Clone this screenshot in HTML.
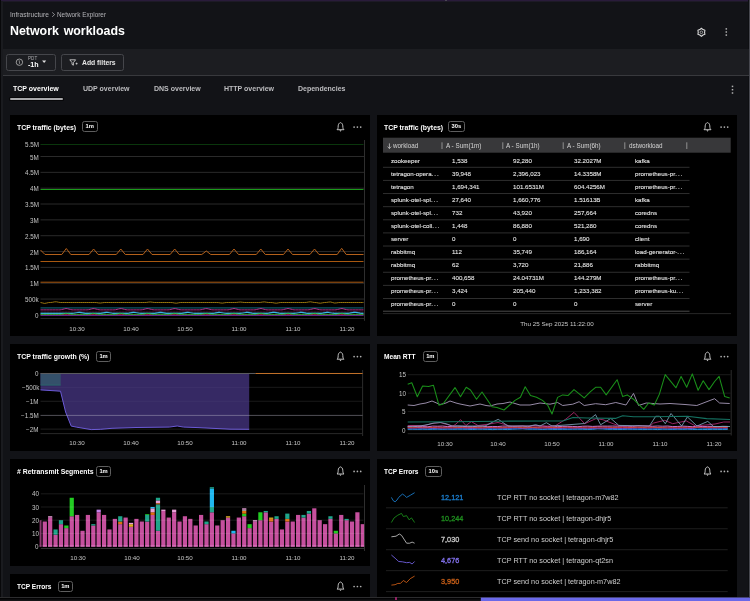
<!DOCTYPE html><html><head><meta charset="utf-8"><style>
*{margin:0;padding:0;box-sizing:border-box}
html,body{width:750px;height:601px;overflow:hidden;background:#121317;font-family:"Liberation Sans", sans-serif}
.t{position:absolute;white-space:nowrap;line-height:12px;height:12px;will-change:transform}
.p{position:absolute;background:#000}
.badge{position:absolute;border:1px solid #5e5e5e;border-radius:2.5px;height:10.8px;color:#fff;font-weight:bold;font-size:5.8px;line-height:9.8px;text-align:center;will-change:transform}
svg{position:absolute;left:0;top:0;overflow:visible}

</style></head><body>
<div style="position:absolute;left:0px;top:0px;width:750px;height:1px;background:#291b3a;"></div>
<div style="position:absolute;left:0px;top:1px;width:750px;height:0.4px;background:#1d1a26;"></div>
<div style="position:absolute;left:444.8px;top:0px;width:2.4px;height:1px;background:#4a4654;"></div>
<div style="position:absolute;left:0px;top:0px;width:1px;height:601px;background:#08080a;"></div>
<div style="position:absolute;left:1px;top:1px;width:2px;height:600px;background:#1a1b1f;"></div>
<div style="position:absolute;left:748px;top:0px;width:1px;height:601px;background:#0e0f12;"></div>
<div style="position:absolute;left:749px;top:0px;width:1px;height:601px;background:#46474e;"></div>
<div style="position:absolute;left:3px;top:49px;width:746px;height:26px;background:#1c1d21;"></div>
<div style="position:absolute;left:3px;top:75.1px;width:746px;height:1px;background:#38393d;"></div>
<div style="position:absolute;left:6px;top:53.6px;width:50.3px;height:17px;border:1px solid #45464b;border-radius:2.5px"></div>
<div style="position:absolute;left:60.6px;top:53.6px;width:63.8px;height:17px;border:1px solid #45464b;border-radius:2.5px"></div>
<div style="position:absolute;left:8.8px;top:96.9px;width:55.3px;height:4.1px;background:#08080a;border-radius:1.5px"></div>
<div style="position:absolute;left:9.6px;top:97.9px;width:53.7px;height:2.1px;background:#a8a8ab;border-radius:1px"></div>
<div class="p" style="left:10.1px;top:114.6px;width:359.5px;height:221.9px"></div>
<div class="p" style="left:377.1px;top:114.6px;width:359.5px;height:221.9px"></div>
<div class="p" style="left:10.1px;top:344.1px;width:359.5px;height:106.8px"></div>
<div class="p" style="left:377.1px;top:344.1px;width:359.5px;height:106.8px"></div>
<div class="p" style="left:10.1px;top:458.9px;width:359.5px;height:106.9px"></div>
<div class="p" style="left:377.1px;top:458.9px;width:359.5px;height:145px"></div>
<div class="p" style="left:10.1px;top:574px;width:359.5px;height:30px"></div>
<div class="badge" style="left:82.4px;top:121.40px;width:15.6px">1m</div>
<div class="badge" style="left:448.3px;top:121.40px;width:16.7px">30s</div>
<div class="badge" style="left:96.4px;top:350.90px;width:15.2px">1m</div>
<div class="badge" style="left:423px;top:350.90px;width:14.7px">1m</div>
<div class="badge" style="left:96.4px;top:465.70px;width:15.2px">1m</div>
<div class="badge" style="left:425px;top:465.70px;width:16.7px">10s</div>
<div class="badge" style="left:58.4px;top:580.80px;width:14.7px">1m</div>
<svg width="750" height="601" viewBox="0 0 750 601"><path d="M337.0,129.7 L344.0,129.7 Q342.9,129.0 342.9,127.5 L342.8,125.89999999999999 C342.7,124.1 341.8,122.89999999999999 340.5,122.6 C339.2,122.89999999999999 338.3,124.1 338.2,125.89999999999999 L338.1,127.5 Q338.1,129.0 337.0,129.7 Z" fill="none" stroke="#c8c8c8" stroke-width="0.95" stroke-linejoin="round"/>
<path d="M339.4,130.29999999999998 L341.6,130.29999999999998 L340.5,131.7 Z" fill="#c8c8c8"/>
<circle cx="354.1" cy="127.1" r="0.85" fill="#b0b0b0"/>
<circle cx="357.40000000000003" cy="127.1" r="0.85" fill="#b0b0b0"/>
<circle cx="360.70000000000005" cy="127.1" r="0.85" fill="#b0b0b0"/>
<path d="M704.0,129.7 L711.0,129.7 Q709.9,129.0 709.9,127.5 L709.8,125.89999999999999 C709.7,124.1 708.8,122.89999999999999 707.5,122.6 C706.2,122.89999999999999 705.3,124.1 705.2,125.89999999999999 L705.1,127.5 Q705.1,129.0 704.0,129.7 Z" fill="none" stroke="#c8c8c8" stroke-width="0.95" stroke-linejoin="round"/>
<path d="M706.4,130.29999999999998 L708.6,130.29999999999998 L707.5,131.7 Z" fill="#c8c8c8"/>
<circle cx="721.1" cy="127.1" r="0.85" fill="#b0b0b0"/>
<circle cx="724.4" cy="127.1" r="0.85" fill="#b0b0b0"/>
<circle cx="727.6999999999999" cy="127.1" r="0.85" fill="#b0b0b0"/>
<path d="M337.0,359.20000000000005 L344.0,359.20000000000005 Q342.9,358.5 342.9,357.0 L342.8,355.40000000000003 C342.7,353.6 341.8,352.40000000000003 340.5,352.1 C339.2,352.40000000000003 338.3,353.6 338.2,355.40000000000003 L338.1,357.0 Q338.1,358.5 337.0,359.20000000000005 Z" fill="none" stroke="#c8c8c8" stroke-width="0.95" stroke-linejoin="round"/>
<path d="M339.4,359.8 L341.6,359.8 L340.5,361.20000000000005 Z" fill="#c8c8c8"/>
<circle cx="354.1" cy="356.6" r="0.85" fill="#b0b0b0"/>
<circle cx="357.40000000000003" cy="356.6" r="0.85" fill="#b0b0b0"/>
<circle cx="360.70000000000005" cy="356.6" r="0.85" fill="#b0b0b0"/>
<path d="M704.0,359.20000000000005 L711.0,359.20000000000005 Q709.9,358.5 709.9,357.0 L709.8,355.40000000000003 C709.7,353.6 708.8,352.40000000000003 707.5,352.1 C706.2,352.40000000000003 705.3,353.6 705.2,355.40000000000003 L705.1,357.0 Q705.1,358.5 704.0,359.20000000000005 Z" fill="none" stroke="#c8c8c8" stroke-width="0.95" stroke-linejoin="round"/>
<path d="M706.4,359.8 L708.6,359.8 L707.5,361.20000000000005 Z" fill="#c8c8c8"/>
<circle cx="721.1" cy="356.6" r="0.85" fill="#b0b0b0"/>
<circle cx="724.4" cy="356.6" r="0.85" fill="#b0b0b0"/>
<circle cx="727.6999999999999" cy="356.6" r="0.85" fill="#b0b0b0"/>
<path d="M337.0,474.0 L344.0,474.0 Q342.9,473.29999999999995 342.9,471.79999999999995 L342.8,470.2 C342.7,468.4 341.8,467.2 340.5,466.9 C339.2,467.2 338.3,468.4 338.2,470.2 L338.1,471.79999999999995 Q338.1,473.29999999999995 337.0,474.0 Z" fill="none" stroke="#c8c8c8" stroke-width="0.95" stroke-linejoin="round"/>
<path d="M339.4,474.59999999999997 L341.6,474.59999999999997 L340.5,476.0 Z" fill="#c8c8c8"/>
<circle cx="354.1" cy="471.4" r="0.85" fill="#b0b0b0"/>
<circle cx="357.40000000000003" cy="471.4" r="0.85" fill="#b0b0b0"/>
<circle cx="360.70000000000005" cy="471.4" r="0.85" fill="#b0b0b0"/>
<path d="M704.0,474.0 L711.0,474.0 Q709.9,473.29999999999995 709.9,471.79999999999995 L709.8,470.2 C709.7,468.4 708.8,467.2 707.5,466.9 C706.2,467.2 705.3,468.4 705.2,470.2 L705.1,471.79999999999995 Q705.1,473.29999999999995 704.0,474.0 Z" fill="none" stroke="#c8c8c8" stroke-width="0.95" stroke-linejoin="round"/>
<path d="M706.4,474.59999999999997 L708.6,474.59999999999997 L707.5,476.0 Z" fill="#c8c8c8"/>
<circle cx="721.1" cy="471.4" r="0.85" fill="#b0b0b0"/>
<circle cx="724.4" cy="471.4" r="0.85" fill="#b0b0b0"/>
<circle cx="727.6999999999999" cy="471.4" r="0.85" fill="#b0b0b0"/>
<path d="M337.0,589.1 L344.0,589.1 Q342.9,588.4 342.9,586.9 L342.8,585.3 C342.7,583.5 341.8,582.3 340.5,582.0 C339.2,582.3 338.3,583.5 338.2,585.3 L338.1,586.9 Q338.1,588.4 337.0,589.1 Z" fill="none" stroke="#c8c8c8" stroke-width="0.95" stroke-linejoin="round"/>
<path d="M339.4,589.7 L341.6,589.7 L340.5,591.1 Z" fill="#c8c8c8"/>
<circle cx="354.1" cy="586.5" r="0.85" fill="#b0b0b0"/>
<circle cx="357.40000000000003" cy="586.5" r="0.85" fill="#b0b0b0"/>
<circle cx="360.70000000000005" cy="586.5" r="0.85" fill="#b0b0b0"/>
<rect x="725.55" y="28.15" width="1.5" height="1.5" fill="#b0b0b0"/>
<rect x="725.55" y="31.25" width="1.5" height="1.5" fill="#b0b0b0"/>
<rect x="725.55" y="34.35" width="1.5" height="1.5" fill="#b0b0b0"/>
<rect x="731.75" y="85.65" width="1.5" height="1.5" fill="#b0b0b0"/>
<rect x="731.75" y="88.95" width="1.5" height="1.5" fill="#b0b0b0"/>
<rect x="731.75" y="92.25" width="1.5" height="1.5" fill="#b0b0b0"/>
<path d="M701.40,28.25 L702.98,29.57 L704.91,30.27 L704.55,32.30 L704.91,34.32 L702.98,35.03 L701.40,36.35 L699.82,35.03 L697.89,34.32 L698.25,32.30 L697.89,30.27 L699.82,29.57 Z" fill="none" stroke="#d8d8d8" stroke-width="1.1" stroke-linejoin="round"/>
<circle cx="701.4" cy="32.3" r="1.3" fill="none" stroke="#bbbbbb" stroke-width="0.8"/>
<path d="M52.2,12.4 L54.6,14.6 L52.2,16.8" fill="none" stroke="#b4b4b8" stroke-width="0.75"/>
<circle cx="19.4" cy="62.2" r="3.2" fill="none" stroke="#a8a8a8" stroke-width="0.9"/>
<line x1="19.2" y1="60.7" x2="19.6" y2="63.5" stroke="#a0a0a0" stroke-width="0.8" stroke-linecap="round"/>
<path d="M42.1,60.6 L46.2,60.6 L44.15,62.9 Z" fill="#e0e0e0"/>
<path d="M69.8,59.8 L75.6,59.8 L73.4,62.6 L73.4,65.2 L72,64.4 L72,62.6 Z" fill="none" stroke="#e0e0e0" stroke-width="0.8" stroke-linejoin="round"/>
<path d="M75.6,63.6 L77.6,63.6 M76.6,62.6 L76.6,64.6" stroke="#e0e0e0" stroke-width="0.7"/>
<rect x="40.5" y="314.4" width="323.5" height="1" fill="#2a2a2a"/>
<rect x="40.5" y="298.56" width="323.5" height="1" fill="#2a2a2a"/>
<rect x="40.5" y="282.71999999999997" width="323.5" height="1" fill="#2a2a2a"/>
<rect x="40.5" y="266.88" width="323.5" height="1" fill="#2a2a2a"/>
<rect x="40.5" y="251.03999999999996" width="323.5" height="1" fill="#2a2a2a"/>
<rect x="40.5" y="235.2" width="323.5" height="1" fill="#2a2a2a"/>
<rect x="40.5" y="219.35999999999999" width="323.5" height="1" fill="#2a2a2a"/>
<rect x="40.5" y="203.51999999999998" width="323.5" height="1" fill="#2a2a2a"/>
<rect x="40.5" y="187.67999999999998" width="323.5" height="1" fill="#2a2a2a"/>
<rect x="40.5" y="171.83999999999997" width="323.5" height="1" fill="#2a2a2a"/>
<rect x="40.5" y="155.99999999999997" width="323.5" height="1" fill="#2a2a2a"/>
<rect x="40.5" y="318.0" width="324.0" height="1" fill="#282828"/>
<rect x="364.0" y="140" width="1" height="180.8" fill="#2e2e2e"/>
<rect x="40.5" y="144.0" width="323.0" height="1" fill="#0a360c"/>
<rect x="40.5" y="189.0" width="323.0" height="1" fill="#1b9a1b"/>
<path d="M40.50,250.00 L45.00,254.50 L61.80,254.50 L66.30,248.50 L70.80,254.50 L89.10,254.50 L93.60,249.00 L98.10,254.50 L116.30,254.50 L120.80,249.00 L125.30,254.50 L143.00,254.50 L147.50,249.00 L152.00,254.50 L170.20,254.50 L174.70,249.00 L179.20,254.50 L201.80,254.50 L206.30,251.00 L210.80,254.50 L229.50,254.50 L234.00,249.00 L238.50,254.50 L256.30,254.50 L260.80,249.00 L265.30,254.50 L283.50,254.50 L288.00,249.00 L292.50,254.50 L310.00,254.50 L314.50,249.00 L319.00,254.50 L337.20,254.50 L341.70,248.30 L346.20,254.50 L363.50,254.50" fill="none" stroke="#b4601a" stroke-width="1" stroke-linejoin="round" />
<rect x="40.5" y="261.0" width="323.0" height="1" fill="#a8580f"/>
<rect x="40.5" y="281.7" width="323.0" height="1" fill="#a8580f"/>
<path d="M40.50,302.50 L42.50,302.93 L44.50,303.43 L46.50,303.07 L48.50,302.57 L50.50,302.50 L52.50,302.30 L54.50,301.85 L56.50,301.80 L58.50,302.25 L60.50,302.50 L62.50,302.50 L64.50,302.50 L66.50,302.50 L68.50,302.50 L70.50,302.50 L72.50,302.50 L74.50,302.50 L76.50,302.50 L78.50,302.50 L80.50,302.50 L82.50,302.50 L84.50,302.50 L86.50,302.50 L88.50,302.50 L90.50,302.50 L92.50,302.50 L94.50,302.50 L96.50,302.57 L98.50,302.88 L100.50,303.02 L102.50,302.73 L104.50,302.50 L106.50,302.50 L108.50,302.50 L110.50,302.50 L112.50,302.50 L114.50,302.50 L116.50,302.50 L118.50,302.50 L120.50,302.50 L122.50,302.50 L124.50,302.50 L126.50,302.50 L128.50,302.50 L130.50,302.50 L132.50,302.50 L134.50,302.50 L136.50,302.50 L138.50,302.50 L140.50,302.50 L142.50,302.50 L144.50,302.50 L146.50,302.43 L148.50,302.12 L150.50,301.98 L152.50,302.27 L154.50,302.50 L156.50,302.50 L158.50,302.50 L160.50,302.50 L162.50,302.50 L164.50,302.50 L166.50,302.50 L168.50,302.50 L170.50,302.50 L172.50,302.60 L174.50,303.00 L176.50,303.20 L178.50,302.80 L180.50,302.50 L182.50,302.50 L184.50,302.50 L186.50,302.50 L188.50,302.50 L190.50,302.50 L192.50,302.50 L194.50,302.50 L196.50,302.50 L198.50,302.50 L200.50,302.50 L202.50,302.50 L204.50,302.50 L206.50,302.50 L208.50,302.50 L210.50,302.50 L212.50,302.50 L214.50,302.50 L216.50,302.50 L218.50,302.59 L220.50,302.94 L222.50,303.11 L224.50,302.76 L226.50,302.50 L228.50,302.50 L230.50,302.50 L232.50,302.50 L234.50,302.50 L236.50,302.44 L238.50,302.19 L240.50,302.06 L242.50,302.31 L244.50,302.50 L246.50,302.50 L248.50,302.50 L250.50,302.50 L252.50,302.50 L254.50,302.50 L256.50,302.50 L258.50,302.50 L260.50,302.41 L262.50,302.06 L264.50,301.89 L266.50,302.24 L268.50,302.50 L270.50,302.50 L272.50,302.60 L274.50,303.00 L276.50,303.20 L278.50,302.80 L280.50,302.50 L282.50,302.50 L284.50,302.50 L286.50,302.50 L288.50,302.50 L290.50,302.50 L292.50,302.50 L294.50,302.50 L296.50,302.50 L298.50,302.50 L300.50,302.50 L302.50,302.50 L304.50,302.50 L306.50,302.40 L308.50,302.00 L310.50,301.80 L312.50,302.20 L314.50,302.50 L316.50,302.60 L318.50,303.00 L320.50,303.20 L322.50,302.80 L324.50,302.50 L326.50,302.43 L328.50,302.12 L330.50,301.98 L332.50,302.50 L334.50,303.02 L336.50,302.88 L338.50,302.57 L340.50,302.50 L342.50,302.50 L344.50,302.50 L346.50,302.50 L348.50,302.50 L350.50,302.50 L352.50,302.50 L354.50,302.50 L356.50,302.50 L358.50,302.50 L360.50,302.50 L362.50,302.50 L363.50,302.50" fill="none" stroke="#a8820f" stroke-width="0.9" stroke-linejoin="round" />
<rect x="40.5" y="307.2" width="323.0" height="1.4" fill="#0b4f5e"/>
<path d="M40.50,309.90 L42.00,309.90 L43.50,309.90 L45.00,309.90 L46.50,309.90 L48.00,309.90 L49.50,309.90 L51.00,309.90 L52.50,309.90 L54.00,309.90 L55.50,309.90 L57.00,309.90 L58.50,309.90 L60.00,309.90 L61.50,309.62 L63.00,309.27 L64.50,308.92 L66.00,308.57 L67.50,308.78 L69.00,309.13 L70.50,309.48 L72.00,309.83 L73.50,309.90 L75.00,309.90 L76.50,309.90 L78.00,309.90 L79.50,309.90 L81.00,309.90 L82.50,309.90 L84.00,309.90 L85.50,309.90 L87.00,309.90 L88.50,309.69 L90.00,309.34 L91.50,308.99 L93.00,308.64 L94.50,308.71 L96.00,309.06 L97.50,309.41 L99.00,309.76 L100.50,309.90 L102.00,309.90 L103.50,309.90 L105.00,309.90 L106.50,309.90 L108.00,309.90 L109.50,309.90 L111.00,309.90 L112.50,309.90 L114.00,309.90 L115.50,309.74 L117.00,309.39 L118.50,309.04 L120.00,308.69 L121.50,308.66 L123.00,309.01 L124.50,309.36 L126.00,309.71 L127.50,309.90 L129.00,309.90 L130.50,309.90 L132.00,309.90 L133.50,309.90 L135.00,309.90 L136.50,309.90 L138.00,309.90 L139.50,309.90 L141.00,309.90 L142.50,309.67 L144.00,309.32 L145.50,308.97 L147.00,308.62 L148.50,308.73 L150.00,309.08 L151.50,309.43 L153.00,309.78 L154.50,309.90 L156.00,309.90 L157.50,309.90 L159.00,309.90 L160.50,309.90 L162.00,309.90 L163.50,309.90 L165.00,309.90 L166.50,309.90 L168.00,309.90 L169.50,309.71 L171.00,309.36 L172.50,309.01 L174.00,308.66 L175.50,308.69 L177.00,309.04 L178.50,309.39 L180.00,309.74 L181.50,309.90 L183.00,309.90 L184.50,309.90 L186.00,309.90 L187.50,309.90 L189.00,309.90 L190.50,309.90 L192.00,309.90 L193.50,309.90 L195.00,309.90 L196.50,309.90 L198.00,309.90 L199.50,309.90 L201.00,309.74 L202.50,309.39 L204.00,309.04 L205.50,308.69 L207.00,308.66 L208.50,309.01 L210.00,309.36 L211.50,309.71 L213.00,309.90 L214.50,309.90 L216.00,309.90 L217.50,309.90 L219.00,309.90 L220.50,309.90 L222.00,309.90 L223.50,309.90 L225.00,309.90 L226.50,309.90 L228.00,309.90 L229.50,309.55 L231.00,309.20 L232.50,308.85 L234.00,308.50 L235.50,308.85 L237.00,309.20 L238.50,309.55 L240.00,309.90 L241.50,309.90 L243.00,309.90 L244.50,309.90 L246.00,309.90 L247.50,309.90 L249.00,309.90 L250.50,309.90 L252.00,309.90 L253.50,309.90 L255.00,309.85 L256.50,309.50 L258.00,309.15 L259.50,308.80 L261.00,308.55 L262.50,308.90 L264.00,309.25 L265.50,309.60 L267.00,309.90 L268.50,309.90 L270.00,309.90 L271.50,309.90 L273.00,309.90 L274.50,309.90 L276.00,309.90 L277.50,309.90 L279.00,309.90 L280.50,309.90 L282.00,309.90 L283.50,309.55 L285.00,309.20 L286.50,308.85 L288.00,308.50 L289.50,308.85 L291.00,309.20 L292.50,309.55 L294.00,309.90 L295.50,309.90 L297.00,309.90 L298.50,309.90 L300.00,309.90 L301.50,309.90 L303.00,309.90 L304.50,309.90 L306.00,309.90 L307.50,309.90 L309.00,309.78 L310.50,309.43 L312.00,309.08 L313.50,308.73 L315.00,308.62 L316.50,308.97 L318.00,309.32 L319.50,309.67 L321.00,309.90 L322.50,309.90 L324.00,309.90 L325.50,309.90 L327.00,309.90 L328.50,309.90 L330.00,309.90 L331.50,309.90 L333.00,309.90 L334.50,309.90 L336.00,309.83 L337.50,309.48 L339.00,309.13 L340.50,308.78 L342.00,308.57 L343.50,308.92 L345.00,309.27 L346.50,309.62 L348.00,309.90 L349.50,309.90 L351.00,309.90 L352.50,309.90 L354.00,309.90 L355.50,309.90 L357.00,309.90 L358.50,309.90 L360.00,309.90 L361.50,309.90 L363.00,309.90 L363.50,309.90" fill="none" stroke="#c8359a" stroke-width="0.9" stroke-linejoin="round" />
<path d="M40.50,311.20 L42.00,311.20 L43.50,311.20 L45.00,311.20 L46.50,311.20 L48.00,311.20 L49.50,311.20 L51.00,311.20 L52.50,311.20 L54.00,311.20 L55.50,311.20 L57.00,311.20 L58.50,311.20 L60.00,311.20 L61.50,311.20 L63.00,311.20 L64.50,311.20 L66.00,311.20 L67.50,311.20 L69.00,311.20 L70.50,311.20 L72.00,311.20 L73.50,311.20 L75.00,311.20 L76.50,311.20 L78.00,311.20 L79.50,311.20 L81.00,311.20 L82.50,311.20 L84.00,311.20 L85.50,311.20 L87.00,311.20 L88.50,311.20 L90.00,311.20 L91.50,311.20 L93.00,311.20 L94.50,311.20 L96.00,311.20 L97.50,311.20 L99.00,311.20 L100.50,311.20 L102.00,311.20 L103.50,311.20 L105.00,311.20 L106.50,311.20 L108.00,311.20 L109.50,311.20 L111.00,311.20 L112.50,311.20 L114.00,311.20 L115.50,311.20 L117.00,311.20 L118.50,311.20 L120.00,311.20 L121.50,311.20 L123.00,311.20 L124.50,311.20 L126.00,311.20 L127.50,311.20 L129.00,311.20 L130.50,311.20 L132.00,311.20 L133.50,311.20 L135.00,311.20 L136.50,311.20 L138.00,311.20 L139.50,311.20 L141.00,311.20 L142.50,311.20 L144.00,311.20 L145.50,311.20 L147.00,311.20 L148.50,311.20 L150.00,311.20 L151.50,311.20 L153.00,311.20 L154.50,311.20 L156.00,311.20 L157.50,311.20 L159.00,311.20 L160.50,311.20 L162.00,311.20 L163.50,311.20 L165.00,311.20 L166.50,311.20 L168.00,311.20 L169.50,311.20 L171.00,311.20 L172.50,311.20 L174.00,311.20 L175.50,311.20 L177.00,311.20 L178.50,311.20 L180.00,311.20 L181.50,311.20 L183.00,311.20 L184.50,311.20 L186.00,311.20 L187.50,311.20 L189.00,311.20 L190.50,311.20 L192.00,311.20 L193.50,311.20 L195.00,311.20 L196.50,311.20 L198.00,311.20 L199.50,311.20 L201.00,311.20 L202.50,311.20 L204.00,311.20 L205.50,311.20 L207.00,311.20 L208.50,311.20 L210.00,311.20 L211.50,311.20 L213.00,311.20 L214.50,311.20 L216.00,311.20 L217.50,311.20 L219.00,311.20 L220.50,311.20 L222.00,311.20 L223.50,311.20 L225.00,311.20 L226.50,311.20 L228.00,311.20 L229.50,311.20 L231.00,311.20 L232.50,311.20 L234.00,311.20 L235.50,311.20 L237.00,311.20 L238.50,311.20 L240.00,311.20 L241.50,311.20 L243.00,311.20 L244.50,311.20 L246.00,311.20 L247.50,311.20 L249.00,311.20 L250.50,311.20 L252.00,311.20 L253.50,311.20 L255.00,311.20 L256.50,311.20 L258.00,311.20 L259.50,311.20 L261.00,311.20 L262.50,311.20 L264.00,311.20 L265.50,311.20 L267.00,311.20 L268.50,311.20 L270.00,311.20 L271.50,311.20 L273.00,311.20 L274.50,311.20 L276.00,311.20 L277.50,311.20 L279.00,311.20 L280.50,311.20 L282.00,311.20 L283.50,311.20 L285.00,311.20 L286.50,311.20 L288.00,311.20 L289.50,311.20 L291.00,311.20 L292.50,311.20 L294.00,311.20 L295.50,311.20 L297.00,311.20 L298.50,311.20 L300.00,311.20 L301.50,311.20 L303.00,311.20 L304.50,311.20 L306.00,311.20 L307.50,311.20 L309.00,311.20 L310.50,311.20 L312.00,311.20 L313.50,311.20 L315.00,311.20 L316.50,311.20 L318.00,311.20 L319.50,311.20 L321.00,311.20 L322.50,311.20 L324.00,311.20 L325.50,311.20 L327.00,311.20 L328.50,311.20 L330.00,311.20 L331.50,311.20 L333.00,311.20 L334.50,311.20 L336.00,311.20 L337.50,311.20 L339.00,311.20 L340.50,311.20 L342.00,311.20 L343.50,311.20 L345.00,311.20 L346.50,311.20 L348.00,311.20 L349.50,311.20 L351.00,311.20 L352.50,311.20 L354.00,311.20 L355.50,311.20 L357.00,311.20 L358.50,311.20 L360.00,311.20 L361.50,311.20 L363.00,311.20 L363.50,311.20" fill="none" stroke="#400a22" stroke-width="0.8" stroke-linejoin="round" />
<path d="M40.50,312.30 L42.00,312.30 L43.50,312.30 L45.00,312.30 L46.50,312.30 L48.00,312.30 L49.50,312.30 L51.00,312.30 L52.50,312.30 L54.00,312.30 L55.50,312.30 L57.00,312.30 L58.50,312.30 L60.00,312.30 L61.50,312.30 L63.00,312.30 L64.50,312.30 L66.00,312.30 L67.50,312.30 L69.00,312.30 L70.50,312.30 L72.00,312.30 L73.50,312.30 L75.00,312.19 L76.50,311.95 L78.00,311.71 L79.50,311.53 L81.00,311.77 L82.50,312.01 L84.00,312.25 L85.50,312.30 L87.00,312.30 L88.50,312.30 L90.00,312.30 L91.50,312.30 L93.00,312.30 L94.50,312.30 L96.00,312.30 L97.50,312.30 L99.00,312.30 L100.50,312.30 L102.00,312.24 L103.50,312.00 L105.00,311.76 L106.50,311.52 L108.00,311.72 L109.50,311.96 L111.00,312.20 L112.50,312.30 L114.00,312.30 L115.50,312.30 L117.00,312.30 L118.50,312.30 L120.00,312.30 L121.50,312.30 L123.00,312.30 L124.50,312.30 L126.00,312.30 L127.50,312.30 L129.00,312.27 L130.50,312.03 L132.00,311.79 L133.50,311.55 L135.00,311.69 L136.50,311.93 L138.00,312.17 L139.50,312.30 L141.00,312.30 L142.50,312.30 L144.00,312.30 L145.50,312.30 L147.00,312.30 L148.50,312.30 L150.00,312.30 L151.50,312.30 L153.00,312.30 L154.50,312.30 L156.00,312.22 L157.50,311.98 L159.00,311.74 L160.50,311.50 L162.00,311.74 L163.50,311.98 L165.00,312.22 L166.50,312.30 L168.00,312.30 L169.50,312.30 L171.00,312.30 L172.50,312.30 L174.00,312.30 L175.50,312.30 L177.00,312.30 L178.50,312.30 L180.00,312.30 L181.50,312.30 L183.00,312.25 L184.50,312.01 L186.00,311.77 L187.50,311.53 L189.00,311.71 L190.50,311.95 L192.00,312.19 L193.50,312.30 L195.00,312.30 L196.50,312.30 L198.00,312.30 L199.50,312.30 L201.00,312.30 L202.50,312.30 L204.00,312.30 L205.50,312.30 L207.00,312.30 L208.50,312.30 L210.00,312.30 L211.50,312.30 L213.00,312.30 L214.50,312.27 L216.00,312.03 L217.50,311.79 L219.00,311.55 L220.50,311.69 L222.00,311.93 L223.50,312.17 L225.00,312.30 L226.50,312.30 L228.00,312.30 L229.50,312.30 L231.00,312.30 L232.50,312.30 L234.00,312.30 L235.50,312.30 L237.00,312.30 L238.50,312.30 L240.00,312.30 L241.50,312.30 L243.00,312.14 L244.50,311.90 L246.00,311.66 L247.50,311.58 L249.00,311.82 L250.50,312.06 L252.00,312.30 L253.50,312.30 L255.00,312.30 L256.50,312.30 L258.00,312.30 L259.50,312.30 L261.00,312.30 L262.50,312.30 L264.00,312.30 L265.50,312.30 L267.00,312.30 L268.50,312.30 L270.00,312.11 L271.50,311.87 L273.00,311.63 L274.50,311.61 L276.00,311.85 L277.50,312.09 L279.00,312.30 L280.50,312.30 L282.00,312.30 L283.50,312.30 L285.00,312.30 L286.50,312.30 L288.00,312.30 L289.50,312.30 L291.00,312.30 L292.50,312.30 L294.00,312.30 L295.50,312.30 L297.00,312.14 L298.50,311.90 L300.00,311.66 L301.50,311.58 L303.00,311.82 L304.50,312.06 L306.00,312.30 L307.50,312.30 L309.00,312.30 L310.50,312.30 L312.00,312.30 L313.50,312.30 L315.00,312.30 L316.50,312.30 L318.00,312.30 L319.50,312.30 L321.00,312.30 L322.50,312.30 L324.00,312.06 L325.50,311.82 L327.00,311.58 L328.50,311.66 L330.00,311.90 L331.50,312.14 L333.00,312.30 L334.50,312.30 L336.00,312.30 L337.50,312.30 L339.00,312.30 L340.50,312.30 L342.00,312.30 L343.50,312.30 L345.00,312.30 L346.50,312.30 L348.00,312.30 L349.50,312.30 L351.00,312.09 L352.50,311.85 L354.00,311.61 L355.50,311.63 L357.00,311.87 L358.50,312.11 L360.00,312.30 L361.50,312.30 L363.00,312.30 L363.50,312.30" fill="none" stroke="#3a3a52" stroke-width="0.7" stroke-linejoin="round" />
<path d="M40.50,314.60 L42.00,314.60 L43.50,314.60 L45.00,314.60 L46.50,314.60 L48.00,314.60 L49.50,314.60 L51.00,314.60 L52.50,314.60 L54.00,314.60 L55.50,314.60 L57.00,314.60 L58.50,314.60 L60.00,314.60 L61.50,314.60 L63.00,314.60 L64.50,314.60 L66.00,314.60 L67.50,314.60 L69.00,314.50 L70.50,314.27 L72.00,314.05 L73.50,314.18 L75.00,314.41 L76.50,314.60 L78.00,314.60 L79.50,314.60 L81.00,314.60 L82.50,314.60 L84.00,314.60 L85.50,314.60 L87.00,314.60 L88.50,314.60 L90.00,314.60 L91.50,314.60 L93.00,314.60 L94.50,314.60 L96.00,314.54 L97.50,314.31 L99.00,314.09 L100.50,314.14 L102.00,314.36 L103.50,314.59 L105.00,314.60 L106.50,314.60 L108.00,314.60 L109.50,314.60 L111.00,314.60 L112.50,314.60 L114.00,314.60 L115.50,314.60 L117.00,314.60 L118.50,314.60 L120.00,314.60 L121.50,314.60 L123.00,314.57 L124.50,314.35 L126.00,314.12 L127.50,314.11 L129.00,314.33 L130.50,314.56 L132.00,314.60 L133.50,314.60 L135.00,314.60 L136.50,314.60 L138.00,314.60 L139.50,314.60 L141.00,314.60 L142.50,314.60 L144.00,314.60 L145.50,314.60 L147.00,314.60 L148.50,314.60 L150.00,314.53 L151.50,314.30 L153.00,314.08 L154.50,314.15 L156.00,314.38 L157.50,314.60 L159.00,314.60 L160.50,314.60 L162.00,314.60 L163.50,314.60 L165.00,314.60 L166.50,314.60 L168.00,314.60 L169.50,314.60 L171.00,314.60 L172.50,314.60 L174.00,314.60 L175.50,314.60 L177.00,314.56 L178.50,314.33 L180.00,314.11 L181.50,314.12 L183.00,314.35 L184.50,314.57 L186.00,314.60 L187.50,314.60 L189.00,314.60 L190.50,314.60 L192.00,314.60 L193.50,314.60 L195.00,314.60 L196.50,314.60 L198.00,314.60 L199.50,314.60 L201.00,314.60 L202.50,314.60 L204.00,314.60 L205.50,314.60 L207.00,314.60 L208.50,314.57 L210.00,314.35 L211.50,314.12 L213.00,314.11 L214.50,314.33 L216.00,314.56 L217.50,314.60 L219.00,314.60 L220.50,314.60 L222.00,314.60 L223.50,314.60 L225.00,314.60 L226.50,314.60 L228.00,314.60 L229.50,314.60 L231.00,314.60 L232.50,314.60 L234.00,314.60 L235.50,314.60 L237.00,314.45 L238.50,314.23 L240.00,314.00 L241.50,314.23 L243.00,314.45 L244.50,314.60 L246.00,314.60 L247.50,314.60 L249.00,314.60 L250.50,314.60 L252.00,314.60 L253.50,314.60 L255.00,314.60 L256.50,314.60 L258.00,314.60 L259.50,314.60 L261.00,314.60 L262.50,314.60 L264.00,314.42 L265.50,314.20 L267.00,314.03 L268.50,314.25 L270.00,314.48 L271.50,314.60 L273.00,314.60 L274.50,314.60 L276.00,314.60 L277.50,314.60 L279.00,314.60 L280.50,314.60 L282.00,314.60 L283.50,314.60 L285.00,314.60 L286.50,314.60 L288.00,314.60 L289.50,314.60 L291.00,314.45 L292.50,314.23 L294.00,314.00 L295.50,314.23 L297.00,314.45 L298.50,314.60 L300.00,314.60 L301.50,314.60 L303.00,314.60 L304.50,314.60 L306.00,314.60 L307.50,314.60 L309.00,314.60 L310.50,314.60 L312.00,314.60 L313.50,314.60 L315.00,314.60 L316.50,314.60 L318.00,314.38 L319.50,314.15 L321.00,314.08 L322.50,314.30 L324.00,314.53 L325.50,314.60 L327.00,314.60 L328.50,314.60 L330.00,314.60 L331.50,314.60 L333.00,314.60 L334.50,314.60 L336.00,314.60 L337.50,314.60 L339.00,314.60 L340.50,314.60 L342.00,314.60 L343.50,314.60 L345.00,314.41 L346.50,314.18 L348.00,314.05 L349.50,314.27 L351.00,314.50 L352.50,314.60 L354.00,314.60 L355.50,314.60 L357.00,314.60 L358.50,314.60 L360.00,314.60 L361.50,314.60 L363.00,314.60 L363.50,314.60" fill="none" stroke="#b82848" stroke-width="0.8" stroke-linejoin="round" />
<path d="M40.50,313.30 L42.00,313.30 L43.50,313.30 L45.00,313.30 L46.50,313.30 L48.00,313.30 L49.50,313.30 L51.00,313.30 L52.50,313.30 L54.00,313.30 L55.50,313.30 L57.00,313.30 L58.50,313.30 L60.00,313.30 L61.50,313.30 L63.00,313.30 L64.50,313.30 L66.00,313.30 L67.50,313.30 L69.00,313.30 L70.50,313.30 L72.00,313.30 L73.50,313.27 L75.00,313.02 L76.50,312.77 L78.00,312.52 L79.50,312.33 L81.00,312.58 L82.50,312.83 L84.00,313.08 L85.50,313.30 L87.00,313.30 L88.50,313.30 L90.00,313.30 L91.50,313.30 L93.00,313.30 L94.50,313.30 L96.00,313.30 L97.50,313.30 L99.00,313.30 L100.50,313.30 L102.00,313.07 L103.50,312.82 L105.00,312.57 L106.50,312.32 L108.00,312.53 L109.50,312.78 L111.00,313.03 L112.50,313.28 L114.00,313.30 L115.50,313.30 L117.00,313.30 L118.50,313.30 L120.00,313.30 L121.50,313.30 L123.00,313.30 L124.50,313.30 L126.00,313.30 L127.50,313.30 L129.00,313.10 L130.50,312.85 L132.00,312.60 L133.50,312.35 L135.00,312.50 L136.50,312.75 L138.00,313.00 L139.50,313.25 L141.00,313.30 L142.50,313.30 L144.00,313.30 L145.50,313.30 L147.00,313.30 L148.50,313.30 L150.00,313.30 L151.50,313.30 L153.00,313.30 L154.50,313.30 L156.00,313.05 L157.50,312.80 L159.00,312.55 L160.50,312.30 L162.00,312.55 L163.50,312.80 L165.00,313.05 L166.50,313.30 L168.00,313.30 L169.50,313.30 L171.00,313.30 L172.50,313.30 L174.00,313.30 L175.50,313.30 L177.00,313.30 L178.50,313.30 L180.00,313.30 L181.50,313.30 L183.00,313.08 L184.50,312.83 L186.00,312.58 L187.50,312.33 L189.00,312.52 L190.50,312.77 L192.00,313.02 L193.50,313.27 L195.00,313.30 L196.50,313.30 L198.00,313.30 L199.50,313.30 L201.00,313.30 L202.50,313.30 L204.00,313.30 L205.50,313.30 L207.00,313.30 L208.50,313.30 L210.00,313.30 L211.50,313.30 L213.00,313.30 L214.50,313.10 L216.00,312.85 L217.50,312.60 L219.00,312.35 L220.50,312.50 L222.00,312.75 L223.50,313.00 L225.00,313.25 L226.50,313.30 L228.00,313.30 L229.50,313.30 L231.00,313.30 L232.50,313.30 L234.00,313.30 L235.50,313.30 L237.00,313.30 L238.50,313.30 L240.00,313.30 L241.50,313.22 L243.00,312.97 L244.50,312.72 L246.00,312.47 L247.50,312.38 L249.00,312.63 L250.50,312.88 L252.00,313.13 L253.50,313.30 L255.00,313.30 L256.50,313.30 L258.00,313.30 L259.50,313.30 L261.00,313.30 L262.50,313.30 L264.00,313.30 L265.50,313.30 L267.00,313.30 L268.50,313.18 L270.00,312.93 L271.50,312.68 L273.00,312.43 L274.50,312.42 L276.00,312.67 L277.50,312.92 L279.00,313.17 L280.50,313.30 L282.00,313.30 L283.50,313.30 L285.00,313.30 L286.50,313.30 L288.00,313.30 L289.50,313.30 L291.00,313.30 L292.50,313.30 L294.00,313.30 L295.50,313.22 L297.00,312.97 L298.50,312.72 L300.00,312.47 L301.50,312.38 L303.00,312.63 L304.50,312.88 L306.00,313.13 L307.50,313.30 L309.00,313.30 L310.50,313.30 L312.00,313.30 L313.50,313.30 L315.00,313.30 L316.50,313.30 L318.00,313.30 L319.50,313.30 L321.00,313.30 L322.50,313.13 L324.00,312.88 L325.50,312.63 L327.00,312.38 L328.50,312.47 L330.00,312.72 L331.50,312.97 L333.00,313.22 L334.50,313.30 L336.00,313.30 L337.50,313.30 L339.00,313.30 L340.50,313.30 L342.00,313.30 L343.50,313.30 L345.00,313.30 L346.50,313.30 L348.00,313.30 L349.50,313.17 L351.00,312.92 L352.50,312.67 L354.00,312.42 L355.50,312.43 L357.00,312.68 L358.50,312.93 L360.00,313.18 L361.50,313.30 L363.00,313.30 L363.50,313.30" fill="none" stroke="#38b8ee" stroke-width="1.2" stroke-linejoin="round" />
<path d="M40.50,314.30 L42.00,314.30 L43.50,314.30 L45.00,314.30 L46.50,314.30 L48.00,314.30 L49.50,314.30 L51.00,314.30 L52.50,314.30 L54.00,314.30 L55.50,314.30 L57.00,314.30 L58.50,314.30 L60.00,314.30 L61.50,314.26 L63.00,313.96 L64.50,313.66 L66.00,313.36 L67.50,313.54 L69.00,313.84 L70.50,314.14 L72.00,314.30 L73.50,314.30 L75.00,314.30 L76.50,314.30 L78.00,314.30 L79.50,314.30 L81.00,314.30 L82.50,314.30 L84.00,314.30 L85.50,314.30 L87.00,314.30 L88.50,314.30 L90.00,314.02 L91.50,313.72 L93.00,313.42 L94.50,313.48 L96.00,313.78 L97.50,314.08 L99.00,314.30 L100.50,314.30 L102.00,314.30 L103.50,314.30 L105.00,314.30 L106.50,314.30 L108.00,314.30 L109.50,314.30 L111.00,314.30 L112.50,314.30 L114.00,314.30 L115.50,314.30 L117.00,314.06 L118.50,313.76 L120.00,313.46 L121.50,313.44 L123.00,313.74 L124.50,314.04 L126.00,314.30 L127.50,314.30 L129.00,314.30 L130.50,314.30 L132.00,314.30 L133.50,314.30 L135.00,314.30 L136.50,314.30 L138.00,314.30 L139.50,314.30 L141.00,314.30 L142.50,314.30 L144.00,314.00 L145.50,313.70 L147.00,313.40 L148.50,313.50 L150.00,313.80 L151.50,314.10 L153.00,314.30 L154.50,314.30 L156.00,314.30 L157.50,314.30 L159.00,314.30 L160.50,314.30 L162.00,314.30 L163.50,314.30 L165.00,314.30 L166.50,314.30 L168.00,314.30 L169.50,314.30 L171.00,314.04 L172.50,313.74 L174.00,313.44 L175.50,313.46 L177.00,313.76 L178.50,314.06 L180.00,314.30 L181.50,314.30 L183.00,314.30 L184.50,314.30 L186.00,314.30 L187.50,314.30 L189.00,314.30 L190.50,314.30 L192.00,314.30 L193.50,314.30 L195.00,314.30 L196.50,314.30 L198.00,314.30 L199.50,314.30 L201.00,314.30 L202.50,314.06 L204.00,313.76 L205.50,313.46 L207.00,313.44 L208.50,313.74 L210.00,314.04 L211.50,314.30 L213.00,314.30 L214.50,314.30 L216.00,314.30 L217.50,314.30 L219.00,314.30 L220.50,314.30 L222.00,314.30 L223.50,314.30 L225.00,314.30 L226.50,314.30 L228.00,314.30 L229.50,314.20 L231.00,313.90 L232.50,313.60 L234.00,313.30 L235.50,313.60 L237.00,313.90 L238.50,314.20 L240.00,314.30 L241.50,314.30 L243.00,314.30 L244.50,314.30 L246.00,314.30 L247.50,314.30 L249.00,314.30 L250.50,314.30 L252.00,314.30 L253.50,314.30 L255.00,314.30 L256.50,314.16 L258.00,313.86 L259.50,313.56 L261.00,313.34 L262.50,313.64 L264.00,313.94 L265.50,314.24 L267.00,314.30 L268.50,314.30 L270.00,314.30 L271.50,314.30 L273.00,314.30 L274.50,314.30 L276.00,314.30 L277.50,314.30 L279.00,314.30 L280.50,314.30 L282.00,314.30 L283.50,314.20 L285.00,313.90 L286.50,313.60 L288.00,313.30 L289.50,313.60 L291.00,313.90 L292.50,314.20 L294.00,314.30 L295.50,314.30 L297.00,314.30 L298.50,314.30 L300.00,314.30 L301.50,314.30 L303.00,314.30 L304.50,314.30 L306.00,314.30 L307.50,314.30 L309.00,314.30 L310.50,314.10 L312.00,313.80 L313.50,313.50 L315.00,313.40 L316.50,313.70 L318.00,314.00 L319.50,314.30 L321.00,314.30 L322.50,314.30 L324.00,314.30 L325.50,314.30 L327.00,314.30 L328.50,314.30 L330.00,314.30 L331.50,314.30 L333.00,314.30 L334.50,314.30 L336.00,314.30 L337.50,314.14 L339.00,313.84 L340.50,313.54 L342.00,313.36 L343.50,313.66 L345.00,313.96 L346.50,314.26 L348.00,314.30 L349.50,314.30 L351.00,314.30 L352.50,314.30 L354.00,314.30 L355.50,314.30 L357.00,314.30 L358.50,314.30 L360.00,314.30 L361.50,314.30 L363.00,314.30 L363.50,314.30" fill="none" stroke="#20b82c" stroke-width="0.9" stroke-linejoin="round" />
<rect x="40.5" y="315.05" width="323.0" height="0.9" fill="#6a2896"/>
<rect x="383.00" y="137.70" width="347.70" height="15.00" fill="#38383a"/>
<rect x="441.50" y="142.30" width="1.00" height="6.70" fill="#909090"/>
<rect x="502.30" y="142.30" width="1.00" height="6.70" fill="#909090"/>
<rect x="562.70" y="142.30" width="1.00" height="6.70" fill="#909090"/>
<rect x="624.30" y="142.30" width="1.00" height="6.70" fill="#909090"/>
<rect x="686.30" y="142.30" width="1.00" height="6.70" fill="#909090"/>
<path d="M389.4,143.4 L389.4,148.5 M387.6,146.6 L389.4,148.5 L391.2,146.6" fill="none" stroke="#d0d0d0" stroke-width="0.75"/>
<rect x="383.00" y="166.80" width="306.50" height="1.00" fill="#2e2e2e"/>
<rect x="383.00" y="179.92" width="306.50" height="1.00" fill="#2e2e2e"/>
<rect x="383.00" y="193.04" width="306.50" height="1.00" fill="#2e2e2e"/>
<rect x="383.00" y="206.16" width="306.50" height="1.00" fill="#2e2e2e"/>
<rect x="383.00" y="219.28" width="306.50" height="1.00" fill="#2e2e2e"/>
<rect x="383.00" y="232.40" width="306.50" height="1.00" fill="#2e2e2e"/>
<rect x="383.00" y="245.52" width="306.50" height="1.00" fill="#2e2e2e"/>
<rect x="383.00" y="258.64" width="306.50" height="1.00" fill="#2e2e2e"/>
<rect x="383.00" y="271.76" width="306.50" height="1.00" fill="#2e2e2e"/>
<rect x="383.00" y="284.88" width="306.50" height="1.00" fill="#2e2e2e"/>
<rect x="383.00" y="298.00" width="306.50" height="1.00" fill="#2e2e2e"/>
<rect x="383.00" y="310.70" width="306.50" height="1.00" fill="#4a4a4a"/>
<rect x="383.00" y="313.10" width="348.00" height="1.00" fill="#262626"/>
<rect x="40.5" y="372.9" width="322.0" height="1" fill="#1a1a1a"/>
<rect x="40.5" y="386.825" width="322.0" height="1" fill="#1a1a1a"/>
<rect x="40.5" y="400.75" width="322.0" height="1" fill="#1a1a1a"/>
<rect x="40.5" y="428.59999999999997" width="322.0" height="1" fill="#1a1a1a"/>
<rect x="40.5" y="433.1" width="322.0" height="1" fill="#282828"/>
<rect x="362.1" y="370" width="1" height="66" fill="#2c2c2c"/>
<path d="M40.5,373.4 L249.2,373.4 L249.2,429.3 L230,429.2 L214,428.4 L198,427.6 L183.6,427.1 L177.2,426 L169.2,427.1 L160,427.2 L136,427.5 L112,428.3 L100.8,429.3 L91.2,429.6 L76.8,427.2 L71.2,426.1 L65.6,412 L60.5,391.2 L40.5,389.9 Z" fill="#3a2c6c" fill-opacity="0.93"/>
<rect x="40.50" y="373.40" width="20.20" height="11.60" fill="#34506a"/>
<rect x="40.5" y="384.70000000000005" width="20.200000000000003" height="0.8" fill="#25706a"/>
<path d="M40.50,389.90 L60.50,391.20 L65.60,412.00 L71.20,426.10 L76.80,427.20 L91.20,429.60 L100.80,429.30 L112.00,428.30 L136.00,427.50 L160.00,427.20 L169.20,427.10 L177.20,426.00 L183.60,427.10 L198.00,427.60 L214.00,428.40 L230.00,429.20 L249.20,429.30" fill="none" stroke="#6b5ad6" stroke-width="1" stroke-linejoin="round" />
<rect x="40.5" y="386.825" width="208.7" height="1" fill="rgba(255,255,255,0.035)"/>
<rect x="40.5" y="400.75" width="208.7" height="1" fill="rgba(255,255,255,0.035)"/>
<rect x="40.5" y="428.59999999999997" width="208.7" height="1" fill="rgba(255,255,255,0.035)"/>
<rect x="40.5" y="414.9" width="322.0" height="1" fill="rgba(190,188,205,0.42)"/>
<rect x="40.5" y="373.0" width="215.0" height="1" fill="#5a5a5e"/>
<rect x="255.5" y="373.0" width="107.10000000000002" height="1" fill="#c07028"/>
<rect x="407.7" y="429.5" width="322.90000000000003" height="1" fill="#1a1a1a"/>
<rect x="407.7" y="411.065" width="322.90000000000003" height="1" fill="#1a1a1a"/>
<rect x="407.7" y="392.63" width="322.90000000000003" height="1" fill="#1a1a1a"/>
<rect x="407.7" y="374.195" width="322.90000000000003" height="1" fill="#1a1a1a"/>
<rect x="407.7" y="433.2" width="323.40000000000003" height="1" fill="#282828"/>
<rect x="730.7" y="370" width="1" height="65.5" fill="#2c2c2c"/>
<path d="M407.70,429.33 L412.70,429.26 L417.70,429.46 L422.70,429.23 L427.70,429.41 L432.70,429.35 L437.70,429.22 L442.70,429.40 L447.70,429.21 L452.70,429.37 L457.70,429.23 L462.70,429.24 L467.70,429.37 L472.70,429.53 L477.70,429.25 L482.70,429.29 L487.70,429.45 L492.70,429.58 L497.70,429.43 L502.70,429.36 L507.70,429.59 L512.70,429.22 L517.70,428.93 L522.70,428.77 L527.70,429.26 L532.70,429.25 L537.70,429.32 L542.70,429.53 L547.70,429.27 L552.70,429.43 L557.70,429.46 L562.70,429.35 L567.70,429.42 L572.70,429.23 L577.70,429.22 L582.70,429.28 L587.70,429.47 L592.70,429.37 L597.70,428.71 L602.70,428.88 L607.70,429.38 L612.70,429.32 L617.70,429.52 L622.70,429.48 L627.70,429.30 L632.70,429.43 L637.70,429.41 L642.70,429.55 L647.70,429.49 L652.70,429.32 L657.70,429.59 L662.70,429.25 L667.70,429.37 L672.70,429.50 L677.70,429.26 L682.70,429.40 L687.70,429.22 L692.70,429.47 L697.70,429.51 L702.70,429.43 L707.70,429.55 L712.70,429.33 L717.70,429.48 L722.70,429.44 L727.70,429.43" fill="none" stroke="#2a9ad8" stroke-width="1.0" stroke-linejoin="round" />
<path d="M407.70,428.78 L412.70,428.94 L417.70,428.98 L422.70,428.79 L427.70,428.87 L432.70,428.62 L437.70,428.88 L442.70,428.86 L447.70,429.00 L452.70,428.93 L457.70,428.71 L462.70,428.75 L467.70,428.87 L472.70,428.61 L477.70,428.78 L482.70,428.67 L487.70,428.65 L492.70,428.62 L497.70,428.91 L502.70,428.65 L507.70,428.70 L512.70,428.76 L517.70,428.95 L522.70,428.63 L527.70,428.78 L532.70,428.82 L537.70,428.95 L542.70,428.93 L547.70,428.95 L552.70,428.71 L557.70,428.77 L562.70,428.74 L567.70,428.95 L572.70,428.98 L577.70,428.66 L582.70,428.67 L587.70,428.69 L592.70,428.69 L597.70,428.79 L602.70,428.84 L607.70,428.71 L612.70,428.60 L617.70,428.77 L622.70,428.75 L627.70,428.83 L632.70,428.98 L637.70,428.88 L642.70,428.81 L647.70,428.85 L652.70,428.87 L657.70,428.62 L662.70,428.96 L667.70,428.91 L672.70,428.95 L677.70,428.92 L682.70,428.76 L687.70,428.76 L692.70,428.64 L697.70,428.85 L702.70,428.62 L707.70,428.63 L712.70,428.68 L717.70,428.66 L722.70,428.74 L727.70,428.62" fill="none" stroke="#1e60b8" stroke-width="0.9" stroke-linejoin="round" />
<path d="M407.70,427.90 L412.70,427.99 L417.70,427.96 L422.70,428.12 L427.70,427.92 L432.70,428.42 L437.70,428.27 L442.70,427.99 L447.70,428.05 L452.70,428.11 L457.70,428.12 L462.70,427.97 L467.70,428.41 L472.70,428.50 L477.70,428.18 L482.70,428.19 L487.70,427.95 L492.70,427.96 L497.70,428.11 L502.70,428.06 L507.70,428.40 L512.70,428.00 L517.70,427.91 L522.70,428.47 L527.70,428.22 L532.70,427.99 L537.70,428.23 L542.70,427.92 L547.70,428.22 L552.70,428.49 L557.70,428.42 L562.70,428.32 L567.70,428.06 L572.70,428.12 L577.70,428.00 L582.70,428.36 L587.70,428.22 L592.70,428.37 L597.70,428.10 L602.70,428.03 L607.70,428.39 L612.70,428.49 L617.70,428.41 L622.70,428.38 L627.70,428.39 L632.70,428.34 L637.70,428.04 L642.70,428.21 L647.70,428.11 L652.70,427.92 L657.70,427.92 L662.70,428.07 L667.70,428.06 L672.70,428.32 L677.70,428.47 L682.70,428.17 L687.70,428.46 L692.70,428.49 L697.70,427.24 L702.70,427.02 L707.70,428.03 L712.70,428.04 L717.70,428.02 L722.70,428.02 L727.70,428.27" fill="none" stroke="#7050d0" stroke-width="0.9" stroke-linejoin="round" />
<path d="M407.70,427.84 L412.70,427.80 L417.70,427.59 L422.70,427.69 L427.70,427.78 L432.70,427.35 L437.70,427.70 L442.70,427.85 L447.70,427.77 L452.70,427.75 L457.70,427.59 L462.70,427.41 L467.70,427.77 L472.70,427.50 L477.70,427.78 L482.70,427.88 L487.70,427.54 L492.70,427.54 L497.70,427.87 L502.70,427.73 L507.70,427.40 L512.70,427.38 L517.70,427.39 L522.70,427.84 L527.70,427.78 L532.70,427.39 L537.70,427.80 L542.70,427.89 L547.70,427.69 L552.70,427.51 L557.70,427.63 L562.70,427.38 L567.70,427.31 L572.70,427.88 L577.70,427.69 L582.70,427.62 L587.70,427.86 L592.70,427.56 L597.70,427.82 L602.70,427.80 L607.70,427.43 L612.70,427.45 L617.70,427.48 L622.70,427.44 L627.70,427.65 L632.70,427.46 L637.70,427.55 L642.70,427.38 L647.70,427.85 L652.70,427.51 L657.70,427.57 L662.70,427.65 L667.70,427.84 L672.70,427.55 L677.70,427.85 L682.70,427.60 L687.70,427.62 L692.70,427.61 L697.70,427.31 L702.70,427.56 L707.70,427.41 L712.70,427.30 L717.70,427.78 L722.70,427.40 L727.70,427.58" fill="none" stroke="#c02040" stroke-width="0.9" stroke-linejoin="round" />
<path d="M407.70,427.24 L412.70,427.13 L417.70,427.00 L422.70,427.11 L427.70,427.13 L432.70,427.27 L437.70,426.86 L442.70,427.14 L447.70,426.95 L452.70,426.97 L457.70,427.26 L462.70,427.10 L467.70,427.14 L472.70,427.26 L477.70,427.35 L482.70,427.07 L487.70,427.17 L492.70,427.10 L497.70,427.11 L502.70,427.22 L507.70,427.07 L512.70,427.12 L517.70,427.09 L522.70,427.36 L527.70,427.22 L532.70,427.33 L537.70,427.37 L542.70,426.96 L547.70,427.14 L552.70,427.37 L557.70,427.30 L562.70,426.88 L567.70,426.87 L572.70,427.07 L577.70,426.84 L582.70,426.94 L587.70,426.84 L592.70,427.20 L597.70,426.65 L602.70,426.79 L607.70,426.89 L612.70,427.23 L617.70,427.20 L622.70,426.89 L627.70,427.33 L632.70,427.38 L637.70,426.93 L642.70,427.37 L647.70,427.04 L652.70,427.09 L657.70,427.39 L662.70,427.30 L667.70,426.90 L672.70,427.06 L677.70,427.11 L682.70,427.00 L687.70,426.92 L692.70,426.99 L697.70,427.23 L702.70,426.81 L707.70,427.13 L712.70,427.06 L717.70,426.81 L722.70,427.00 L727.70,427.17" fill="none" stroke="#d85030" stroke-width="0.8" stroke-linejoin="round" />
<path d="M407.70,426.41 L412.70,426.05 L417.70,426.79 L422.70,426.63 L427.70,426.78 L432.70,426.08 L437.70,426.21 L442.70,426.03 L447.70,426.62 L452.70,426.22 L457.70,426.10 L462.70,426.34 L467.70,426.73 L472.70,426.66 L477.70,426.21 L482.70,426.12 L487.70,426.74 L492.70,426.46 L497.70,426.56 L502.70,426.07 L507.70,426.05 L512.70,426.55 L517.70,426.34 L522.70,426.06 L527.70,426.75 L532.70,425.58 L537.70,425.82 L542.70,426.07 L547.70,426.68 L552.70,426.05 L557.70,426.69 L562.70,426.36 L567.70,426.27 L572.70,426.44 L577.70,426.74 L582.70,426.21 L587.70,426.10 L592.70,426.42 L597.70,426.19 L602.70,426.09 L607.70,426.13 L612.70,426.04 L617.70,426.16 L622.70,426.25 L627.70,426.24 L632.70,426.61 L637.70,425.62 L642.70,425.85 L647.70,426.14 L652.70,426.28 L657.70,426.01 L662.70,426.20 L667.70,426.01 L672.70,426.59 L677.70,426.44 L682.70,426.15 L687.70,426.38 L692.70,426.75 L697.70,426.09 L702.70,426.66 L707.70,426.35 L712.70,426.40 L717.70,426.67 L722.70,426.31 L727.70,426.41" fill="none" stroke="#c070c8" stroke-width="1.0" stroke-linejoin="round" />
<path d="M407.70,425.50 L425.00,425.50 L432.00,423.50 L440.00,422.50 L447.00,424.50 L453.00,426.00 L456.00,424.00 L460.60,419.70 L466.00,425.50 L471.30,421.60 L478.00,425.50 L488.00,424.20 L498.00,422.50 L510.00,426.00 L555.00,426.00 L566.00,419.00 L574.00,412.40 L584.70,423.70 L596.00,418.60 L602.90,419.70 L613.10,423.70 L620.00,426.00 L650.00,426.00 L653.40,423.10 L664.70,420.30 L672.70,423.70 L686.30,420.90 L695.40,426.00 L715.00,424.00 L723.70,422.00 L730.00,422.00" fill="none" stroke="#a8286c" stroke-width="0.9" stroke-linejoin="round" />
<path d="M407.70,426.50 L420.00,426.00 L428.00,424.50 L434.00,423.00 L441.00,422.50 L447.00,424.00 L452.00,426.00 L485.00,426.00 L498.20,419.30 L508.00,426.00 L530.00,426.00 L535.60,424.70 L540.00,426.00 L546.40,422.70 L552.00,426.00 L584.70,423.50 L595.50,414.60 L600.60,424.80 L610.80,418.40 L618.80,425.40 L649.40,426.00 L655.70,416.30 L659.60,416.30 L665.30,423.70 L671.00,413.50 L681.70,426.00 L687.40,416.90 L697.00,426.00 L707.80,421.40 L713.50,426.50 L730.00,426.50" fill="none" stroke="#7ea4bc" stroke-width="0.85" stroke-linejoin="round" />
<path d="M407.70,422.00 L450.00,421.80 L500.00,421.20 L550.00,421.00 L562.80,421.00 L573.00,417.50 L587.00,418.00 L615.40,418.40 L622.70,415.80 L633.50,416.80 L655.00,416.70 L687.40,416.20 L706.70,418.60 L730.00,419.50" fill="none" stroke="#157262" stroke-width="1.1" stroke-linejoin="round" />
<path d="M407.70,405.00 L414.00,405.50 L420.00,404.00 L426.00,403.00 L432.00,401.00 L440.00,404.50 L446.00,403.00 L450.00,401.00 L456.00,403.00 L460.00,404.00 L470.00,406.00 L480.00,404.00 L486.00,405.50 L490.00,406.00 L497.00,404.00 L503.00,403.50 L510.00,402.00 L520.00,405.00 L530.00,405.00 L540.00,403.00 L550.00,404.20 L557.60,402.50 L562.70,405.50 L572.80,404.20 L579.10,401.70 L584.20,405.50 L595.60,403.70 L605.70,404.70 L615.80,402.50 L626.00,405.00 L633.50,393.40 L638.60,405.50 L646.20,403.00 L660.00,404.00 L670.00,403.50 L685.00,404.50 L696.80,405.50 L714.60,398.70 L719.60,403.00 L729.70,403.50" fill="none" stroke="#968aa6" stroke-width="1" stroke-linejoin="round" />
<path d="M407.70,384.30 L411.80,382.80 L417.30,396.80 L422.60,386.00 L428.60,386.50 L433.40,385.20 L438.90,405.20 L443.00,404.00 L455.00,387.60 L460.50,396.80 L466.20,387.20 L470.50,390.00 L476.50,399.20 L482.00,392.00 L492.00,406.80 L497.00,407.50 L504.00,410.00 L515.00,400.40 L520.40,397.20 L525.20,386.70 L530.50,395.60 L536.50,397.20 L542.50,400.40 L547.70,405.20 L552.00,414.00 L557.60,397.40 L562.70,394.90 L568.20,395.40 L574.00,389.60 L584.20,397.90 L590.50,391.60 L595.60,387.30 L600.60,387.30 L606.20,394.90 L617.10,379.70 L622.70,396.60 L627.20,394.90 L633.50,399.20 L643.70,409.30 L648.70,403.00 L654.30,405.00 L659.40,394.10 L665.20,374.60 L676.00,387.80 L681.10,376.40 L686.70,387.30 L692.30,373.90 L698.10,390.30 L703.20,380.70 L709.00,389.60 L714.60,381.50 L719.10,376.40 L724.70,396.60 L729.70,397.90" fill="none" stroke="#1a901a" stroke-width="1.05" stroke-linejoin="round" />
<rect x="40.8" y="548.0" width="323.7" height="1" fill="#303030"/>
<rect x="364.0" y="485" width="1" height="66" fill="#2e2e2e"/>
<defs><clipPath id="c5"><rect x="39.6" y="480" width="324.5" height="70"/></clipPath></defs><g clip-path="url(#c5)">
<rect x="37.30" y="520.20" width="4.20" height="26.40" fill="#8a3a70"/>
<rect x="37.30" y="545.41" width="4.20" height="1.19" fill="#9a4a80"/>
<rect x="42.69" y="521.52" width="4.20" height="25.08" fill="#c6509e"/>
<rect x="42.69" y="545.41" width="4.20" height="1.19" fill="#dc78c0"/>
<rect x="48.08" y="517.56" width="4.20" height="29.04" fill="#c6509e"/>
<rect x="48.08" y="516.24" width="4.20" height="1.32" fill="#e9a0d8"/>
<rect x="48.08" y="545.41" width="4.20" height="1.19" fill="#dc78c0"/>
<rect x="53.47" y="534.72" width="4.20" height="11.88" fill="#c6509e"/>
<rect x="53.47" y="529.44" width="4.20" height="5.28" fill="#1fa58a"/>
<rect x="53.47" y="545.41" width="4.20" height="1.19" fill="#dc78c0"/>
<rect x="58.86" y="524.16" width="4.20" height="22.44" fill="#c6509e"/>
<rect x="58.86" y="520.20" width="4.20" height="3.96" fill="#1fa58a"/>
<rect x="58.86" y="545.41" width="4.20" height="1.19" fill="#dc78c0"/>
<rect x="64.25" y="528.12" width="4.20" height="18.48" fill="#c6509e"/>
<rect x="64.25" y="525.48" width="4.20" height="2.64" fill="#22cc22"/>
<rect x="64.25" y="545.41" width="4.20" height="1.19" fill="#dc78c0"/>
<rect x="69.64" y="516.24" width="4.20" height="30.36" fill="#c6509e"/>
<rect x="69.64" y="497.76" width="4.20" height="18.48" fill="#22cc22"/>
<rect x="69.64" y="545.41" width="4.20" height="1.19" fill="#dc78c0"/>
<rect x="75.03" y="514.92" width="4.20" height="31.68" fill="#c6509e"/>
<rect x="75.03" y="545.41" width="4.20" height="1.19" fill="#dc78c0"/>
<rect x="80.42" y="530.76" width="4.20" height="15.84" fill="#c6509e"/>
<rect x="80.42" y="545.41" width="4.20" height="1.19" fill="#dc78c0"/>
<rect x="85.81" y="514.92" width="4.20" height="31.68" fill="#c6509e"/>
<rect x="85.81" y="545.41" width="4.20" height="1.19" fill="#dc78c0"/>
<rect x="91.20" y="525.48" width="4.20" height="21.12" fill="#c6509e"/>
<rect x="91.20" y="524.16" width="4.20" height="1.32" fill="#1fa58a"/>
<rect x="91.20" y="545.41" width="4.20" height="1.19" fill="#dc78c0"/>
<rect x="96.59" y="512.28" width="4.20" height="34.32" fill="#c6509e"/>
<rect x="96.59" y="509.64" width="4.20" height="2.64" fill="#c080e8"/>
<rect x="96.59" y="545.41" width="4.20" height="1.19" fill="#dc78c0"/>
<rect x="101.98" y="514.92" width="4.20" height="31.68" fill="#c6509e"/>
<rect x="101.98" y="545.41" width="4.20" height="1.19" fill="#dc78c0"/>
<rect x="107.37" y="529.44" width="4.20" height="17.16" fill="#c6509e"/>
<rect x="107.37" y="545.41" width="4.20" height="1.19" fill="#dc78c0"/>
<rect x="112.76" y="518.88" width="4.20" height="27.72" fill="#c6509e"/>
<rect x="112.76" y="545.41" width="4.20" height="1.19" fill="#dc78c0"/>
<rect x="118.15" y="524.16" width="4.20" height="22.44" fill="#c6509e"/>
<rect x="118.15" y="521.52" width="4.20" height="2.64" fill="#e07010"/>
<rect x="118.15" y="516.24" width="4.20" height="5.28" fill="#1fa58a"/>
<rect x="118.15" y="545.41" width="4.20" height="1.19" fill="#dc78c0"/>
<rect x="123.54" y="517.56" width="4.20" height="29.04" fill="#c6509e"/>
<rect x="123.54" y="545.41" width="4.20" height="1.19" fill="#dc78c0"/>
<rect x="128.93" y="526.80" width="4.20" height="19.80" fill="#c6509e"/>
<rect x="128.93" y="524.16" width="4.20" height="2.64" fill="#e0b020"/>
<rect x="128.93" y="522.84" width="4.20" height="1.32" fill="#e9a0d8"/>
<rect x="128.93" y="545.41" width="4.20" height="1.19" fill="#dc78c0"/>
<rect x="134.32" y="518.88" width="4.20" height="27.72" fill="#c6509e"/>
<rect x="134.32" y="545.41" width="4.20" height="1.19" fill="#dc78c0"/>
<rect x="139.71" y="521.52" width="4.20" height="25.08" fill="#c6509e"/>
<rect x="139.71" y="545.41" width="4.20" height="1.19" fill="#dc78c0"/>
<rect x="145.10" y="521.52" width="4.20" height="25.08" fill="#c6509e"/>
<rect x="145.10" y="514.92" width="4.20" height="6.60" fill="#1fa58a"/>
<rect x="145.10" y="514.13" width="4.20" height="0.79" fill="#22cc22"/>
<rect x="145.10" y="545.41" width="4.20" height="1.19" fill="#dc78c0"/>
<rect x="150.49" y="514.92" width="4.20" height="31.68" fill="#c6509e"/>
<rect x="150.49" y="512.28" width="4.20" height="2.64" fill="#e07010"/>
<rect x="150.49" y="508.32" width="4.20" height="3.96" fill="#e9a0d8"/>
<rect x="150.49" y="507.00" width="4.20" height="1.32" fill="#20b8f0"/>
<rect x="150.49" y="545.41" width="4.20" height="1.19" fill="#dc78c0"/>
<rect x="155.88" y="530.76" width="4.20" height="15.84" fill="#c6509e"/>
<rect x="155.88" y="504.36" width="4.20" height="26.40" fill="#1fa58a"/>
<rect x="155.88" y="503.04" width="4.20" height="1.32" fill="#b05a20"/>
<rect x="155.88" y="500.40" width="4.20" height="2.64" fill="#e9a0d8"/>
<rect x="155.88" y="497.76" width="4.20" height="2.64" fill="#1fa58a"/>
<rect x="155.88" y="545.41" width="4.20" height="1.19" fill="#dc78c0"/>
<rect x="161.27" y="510.96" width="4.20" height="35.64" fill="#c6509e"/>
<rect x="161.27" y="509.64" width="4.20" height="1.32" fill="#e9a0d8"/>
<rect x="161.27" y="545.41" width="4.20" height="1.19" fill="#dc78c0"/>
<rect x="166.66" y="517.56" width="4.20" height="29.04" fill="#c6509e"/>
<rect x="166.66" y="545.41" width="4.20" height="1.19" fill="#dc78c0"/>
<rect x="172.05" y="512.28" width="4.20" height="34.32" fill="#c6509e"/>
<rect x="172.05" y="509.64" width="4.20" height="2.64" fill="#e9a0d8"/>
<rect x="172.05" y="545.41" width="4.20" height="1.19" fill="#dc78c0"/>
<rect x="177.44" y="521.52" width="4.20" height="25.08" fill="#c6509e"/>
<rect x="177.44" y="545.41" width="4.20" height="1.19" fill="#dc78c0"/>
<rect x="182.83" y="516.24" width="4.20" height="30.36" fill="#c6509e"/>
<rect x="182.83" y="545.41" width="4.20" height="1.19" fill="#dc78c0"/>
<rect x="188.22" y="518.88" width="4.20" height="27.72" fill="#c6509e"/>
<rect x="188.22" y="545.41" width="4.20" height="1.19" fill="#dc78c0"/>
<rect x="193.61" y="525.48" width="4.20" height="21.12" fill="#c6509e"/>
<rect x="193.61" y="545.41" width="4.20" height="1.19" fill="#dc78c0"/>
<rect x="199.00" y="514.92" width="4.20" height="31.68" fill="#c6509e"/>
<rect x="199.00" y="545.41" width="4.20" height="1.19" fill="#dc78c0"/>
<rect x="204.39" y="524.16" width="4.20" height="22.44" fill="#c6509e"/>
<rect x="204.39" y="521.52" width="4.20" height="2.64" fill="#1fa58a"/>
<rect x="204.39" y="545.41" width="4.20" height="1.19" fill="#dc78c0"/>
<rect x="209.78" y="512.28" width="4.20" height="34.32" fill="#c6509e"/>
<rect x="209.78" y="507.00" width="4.20" height="5.28" fill="#1fa58a"/>
<rect x="209.78" y="488.52" width="4.20" height="18.48" fill="#20b8f0"/>
<rect x="209.78" y="487.20" width="4.20" height="1.32" fill="#1fa58a"/>
<rect x="209.78" y="545.41" width="4.20" height="1.19" fill="#dc78c0"/>
<rect x="215.17" y="525.48" width="4.20" height="21.12" fill="#c6509e"/>
<rect x="215.17" y="545.41" width="4.20" height="1.19" fill="#dc78c0"/>
<rect x="220.56" y="520.20" width="4.20" height="26.40" fill="#c6509e"/>
<rect x="220.56" y="545.41" width="4.20" height="1.19" fill="#dc78c0"/>
<rect x="225.95" y="517.56" width="4.20" height="29.04" fill="#c6509e"/>
<rect x="225.95" y="516.24" width="4.20" height="1.32" fill="#e0b020"/>
<rect x="225.95" y="545.41" width="4.20" height="1.19" fill="#dc78c0"/>
<rect x="231.34" y="533.40" width="4.20" height="13.20" fill="#c6509e"/>
<rect x="231.34" y="530.76" width="4.20" height="2.64" fill="#20b8f0"/>
<rect x="231.34" y="545.41" width="4.20" height="1.19" fill="#dc78c0"/>
<rect x="236.73" y="517.56" width="4.20" height="29.04" fill="#c6509e"/>
<rect x="236.73" y="545.41" width="4.20" height="1.19" fill="#dc78c0"/>
<rect x="242.12" y="516.24" width="4.20" height="30.36" fill="#c6509e"/>
<rect x="242.12" y="513.60" width="4.20" height="2.64" fill="#22cc22"/>
<rect x="242.12" y="510.96" width="4.20" height="2.64" fill="#e07010"/>
<rect x="242.12" y="509.64" width="4.20" height="1.32" fill="#a0a0a0"/>
<rect x="242.12" y="508.32" width="4.20" height="1.32" fill="#e9a0d8"/>
<rect x="242.12" y="545.41" width="4.20" height="1.19" fill="#dc78c0"/>
<rect x="247.51" y="528.12" width="4.20" height="18.48" fill="#c6509e"/>
<rect x="247.51" y="524.16" width="4.20" height="3.96" fill="#22cc22"/>
<rect x="247.51" y="545.41" width="4.20" height="1.19" fill="#dc78c0"/>
<rect x="252.90" y="521.52" width="4.20" height="25.08" fill="#c6509e"/>
<rect x="252.90" y="520.20" width="4.20" height="1.32" fill="#e9a0d8"/>
<rect x="252.90" y="545.41" width="4.20" height="1.19" fill="#dc78c0"/>
<rect x="258.29" y="520.20" width="4.20" height="26.40" fill="#c6509e"/>
<rect x="258.29" y="512.28" width="4.20" height="7.92" fill="#22cc22"/>
<rect x="258.29" y="545.41" width="4.20" height="1.19" fill="#dc78c0"/>
<rect x="263.68" y="512.28" width="4.20" height="34.32" fill="#c6509e"/>
<rect x="263.68" y="510.96" width="4.20" height="1.32" fill="#1fa58a"/>
<rect x="263.68" y="545.41" width="4.20" height="1.19" fill="#dc78c0"/>
<rect x="269.07" y="521.52" width="4.20" height="25.08" fill="#c6509e"/>
<rect x="269.07" y="518.88" width="4.20" height="2.64" fill="#e07010"/>
<rect x="269.07" y="517.56" width="4.20" height="1.32" fill="#e0b020"/>
<rect x="269.07" y="545.41" width="4.20" height="1.19" fill="#dc78c0"/>
<rect x="274.46" y="518.88" width="4.20" height="27.72" fill="#c6509e"/>
<rect x="274.46" y="516.24" width="4.20" height="2.64" fill="#1fa58a"/>
<rect x="274.46" y="545.41" width="4.20" height="1.19" fill="#dc78c0"/>
<rect x="279.85" y="529.44" width="4.20" height="17.16" fill="#c6509e"/>
<rect x="279.85" y="545.41" width="4.20" height="1.19" fill="#dc78c0"/>
<rect x="285.24" y="521.52" width="4.20" height="25.08" fill="#c6509e"/>
<rect x="285.24" y="518.88" width="4.20" height="2.64" fill="#e07010"/>
<rect x="285.24" y="513.60" width="4.20" height="5.28" fill="#1fa58a"/>
<rect x="285.24" y="545.41" width="4.20" height="1.19" fill="#dc78c0"/>
<rect x="290.63" y="521.52" width="4.20" height="25.08" fill="#c6509e"/>
<rect x="290.63" y="545.41" width="4.20" height="1.19" fill="#dc78c0"/>
<rect x="296.02" y="514.92" width="4.20" height="31.68" fill="#c6509e"/>
<rect x="296.02" y="545.41" width="4.20" height="1.19" fill="#dc78c0"/>
<rect x="301.41" y="517.56" width="4.20" height="29.04" fill="#c6509e"/>
<rect x="301.41" y="514.92" width="4.20" height="2.64" fill="#1fa58a"/>
<rect x="301.41" y="545.41" width="4.20" height="1.19" fill="#dc78c0"/>
<rect x="306.80" y="513.60" width="4.20" height="33.00" fill="#c6509e"/>
<rect x="306.80" y="510.96" width="4.20" height="2.64" fill="#1fa58a"/>
<rect x="306.80" y="545.41" width="4.20" height="1.19" fill="#dc78c0"/>
<rect x="312.19" y="508.32" width="4.20" height="38.28" fill="#c6509e"/>
<rect x="312.19" y="545.41" width="4.20" height="1.19" fill="#dc78c0"/>
<rect x="317.58" y="520.20" width="4.20" height="26.40" fill="#c6509e"/>
<rect x="317.58" y="545.41" width="4.20" height="1.19" fill="#dc78c0"/>
<rect x="322.97" y="524.16" width="4.20" height="22.44" fill="#c6509e"/>
<rect x="322.97" y="545.41" width="4.20" height="1.19" fill="#dc78c0"/>
<rect x="328.36" y="518.88" width="4.20" height="27.72" fill="#c6509e"/>
<rect x="328.36" y="516.24" width="4.20" height="2.64" fill="#1fa58a"/>
<rect x="328.36" y="545.41" width="4.20" height="1.19" fill="#dc78c0"/>
<rect x="333.75" y="533.40" width="4.20" height="13.20" fill="#c6509e"/>
<rect x="333.75" y="530.76" width="4.20" height="2.64" fill="#22cc22"/>
<rect x="333.75" y="545.41" width="4.20" height="1.19" fill="#dc78c0"/>
<rect x="339.14" y="514.92" width="4.20" height="31.68" fill="#c6509e"/>
<rect x="339.14" y="545.41" width="4.20" height="1.19" fill="#dc78c0"/>
<rect x="344.53" y="520.20" width="4.20" height="26.40" fill="#c6509e"/>
<rect x="344.53" y="518.88" width="4.20" height="1.32" fill="#1fa58a"/>
<rect x="344.53" y="545.41" width="4.20" height="1.19" fill="#dc78c0"/>
<rect x="349.92" y="521.52" width="4.20" height="25.08" fill="#c6509e"/>
<rect x="349.92" y="545.41" width="4.20" height="1.19" fill="#dc78c0"/>
<rect x="355.31" y="512.28" width="4.20" height="34.32" fill="#c6509e"/>
<rect x="355.31" y="545.41" width="4.20" height="1.19" fill="#dc78c0"/>
<rect x="360.70" y="524.16" width="4.20" height="22.44" fill="#c6509e"/>
<rect x="360.70" y="545.41" width="4.20" height="1.19" fill="#dc78c0"/>
</g>
<rect x="40.8" y="532.9" width="322.7" height="1" fill="rgba(255,255,255,0.105)"/>
<rect x="40.8" y="519.7" width="322.7" height="1" fill="rgba(255,255,255,0.105)"/>
<rect x="40.8" y="506.5" width="322.7" height="1" fill="rgba(255,255,255,0.105)"/>
<rect x="40.8" y="493.3" width="322.7" height="1" fill="rgba(255,255,255,0.105)"/>
<path d="M391.40,497.40 L393.20,500.60 L395.10,501.80 L397.00,500.00 L398.70,497.40 L402.40,494.10 L404.50,495.40 L406.60,497.40 L410.60,495.10 L414.60,492.70" fill="none" stroke="#1a7ac8" stroke-width="0.9" stroke-linejoin="round" />
<rect x="386.00" y="507.30" width="341.70" height="1.00" fill="#1e1e1e"/>
<path d="M391.40,522.50 L394.10,517.90 L397.80,515.20 L401.50,513.40 L403.30,516.50 L406.60,515.70 L409.10,519.80 L411.50,517.90 L414.60,522.50" fill="none" stroke="#1a8a1a" stroke-width="0.9" stroke-linejoin="round" />
<rect x="386.00" y="528.25" width="341.70" height="1.00" fill="#1e1e1e"/>
<path d="M391.40,536.80 L396.00,536.20 L399.30,534.00 L401.50,535.30 L406.60,543.20 L409.70,543.20 L412.10,542.10 L414.60,543.20" fill="none" stroke="#b8b8b8" stroke-width="0.9" stroke-linejoin="round" />
<rect x="386.00" y="549.20" width="341.70" height="1.00" fill="#1e1e1e"/>
<path d="M391.40,555.00 L395.10,558.20 L398.70,561.50 L402.40,561.80 L406.60,562.70 L409.70,562.40 L412.10,564.00 L414.60,561.50" fill="none" stroke="#7060e0" stroke-width="0.9" stroke-linejoin="round" />
<rect x="386.00" y="570.15" width="341.70" height="1.00" fill="#1e1e1e"/>
<path d="M391.40,585.10 L395.10,584.70 L397.80,583.40 L400.50,583.40 L403.30,580.50 L406.60,582.50 L410.20,578.70 L414.60,576.10" fill="none" stroke="#c85a14" stroke-width="0.9" stroke-linejoin="round" />
<rect x="386.00" y="591.10" width="341.70" height="1.00" fill="#1e1e1e"/>
<rect x="0.00" y="597.00" width="750.00" height="1.00" fill="#2c2c2e"/>
<rect x="0.00" y="598.00" width="750.00" height="3.00" fill="#020203"/>
<rect x="0.00" y="599.70" width="750.00" height="0.90" fill="#232325"/>
<rect x="480.80" y="597.60" width="269.20" height="3.40" fill="#6a68e8"/>
<rect x="395.30" y="597.20" width="1.40" height="2.80" fill="#d02a8a"/></svg>
<div class="t" style="left:10px;top:9.20px;font-size:6.6px;color:#b4b4b8;font-weight:normal;">Infrastructure</div>
<div class="t" style="left:57.4px;top:9.20px;font-size:6.4px;color:#b4b4b8;font-weight:normal;">Network Explorer</div>
<div class="t" style="left:10px;top:25.40px;font-size:12.4px;color:#fff;font-weight:bold;word-spacing:1.3px;">Network workloads</div>
<div class="t" style="left:28px;top:52.90px;font-size:4.6px;color:#a9a9ad;font-weight:normal;">PDT</div>
<div class="t" style="left:27.6px;top:59.30px;font-size:7.1px;color:#fff;font-weight:bold;">-1h</div>
<div class="t" style="left:82px;top:57.00px;font-size:6.8px;color:#e6e6e6;font-weight:bold;">Add filters</div>
<div class="t" style="left:13.4px;top:82.60px;font-size:7px;color:#fff;font-weight:bold;">TCP overview</div>
<div class="t" style="left:83px;top:82.60px;font-size:7px;color:#bdbdc0;font-weight:bold;">UDP overview</div>
<div class="t" style="left:153.8px;top:82.60px;font-size:7px;color:#bdbdc0;font-weight:bold;">DNS overview</div>
<div class="t" style="left:224.2px;top:82.60px;font-size:7px;color:#bdbdc0;font-weight:bold;">HTTP overview</div>
<div class="t" style="left:298.4px;top:82.60px;font-size:7px;color:#bdbdc0;font-weight:bold;">Dependencies</div>
<div class="t" style="left:16.9px;top:121.80px;font-size:6.88px;color:#fff;font-weight:bold;">TCP traffic (bytes)</div>
<div class="t" style="left:383.90000000000003px;top:121.80px;font-size:6.88px;color:#fff;font-weight:bold;">TCP traffic (bytes)</div>
<div class="t" style="left:16.9px;top:351.30px;font-size:6.92px;color:#fff;font-weight:bold;">TCP traffic growth (%)</div>
<div class="t" style="left:383.90000000000003px;top:351.30px;font-size:6.6px;color:#fff;font-weight:bold;">Mean RTT</div>
<div class="t" style="left:16.9px;top:466.10px;font-size:6.9px;color:#fff;font-weight:bold;"># Retransmit Segments</div>
<div class="t" style="left:383.90000000000003px;top:466.10px;font-size:6.56px;color:#fff;font-weight:bold;">TCP Errors</div>
<div class="t" style="left:16.9px;top:581.20px;font-size:6.56px;color:#fff;font-weight:bold;">TCP Errors</div>
<div class="t" style="right:711.1px;top:310.00px;font-size:6.3px;color:#c4c4c4;font-weight:normal;">0</div>
<div class="t" style="right:711.1px;top:294.16px;font-size:6.3px;color:#c4c4c4;font-weight:normal;">500k</div>
<div class="t" style="right:711.1px;top:278.32px;font-size:6.3px;color:#c4c4c4;font-weight:normal;">1M</div>
<div class="t" style="right:711.1px;top:262.48px;font-size:6.3px;color:#c4c4c4;font-weight:normal;">1.5M</div>
<div class="t" style="right:711.1px;top:246.64px;font-size:6.3px;color:#c4c4c4;font-weight:normal;">2M</div>
<div class="t" style="right:711.1px;top:230.80px;font-size:6.3px;color:#c4c4c4;font-weight:normal;">2.5M</div>
<div class="t" style="right:711.1px;top:214.96px;font-size:6.3px;color:#c4c4c4;font-weight:normal;">3M</div>
<div class="t" style="right:711.1px;top:199.12px;font-size:6.3px;color:#c4c4c4;font-weight:normal;">3.5M</div>
<div class="t" style="right:711.1px;top:183.28px;font-size:6.3px;color:#c4c4c4;font-weight:normal;">4M</div>
<div class="t" style="right:711.1px;top:167.44px;font-size:6.3px;color:#c4c4c4;font-weight:normal;">4.5M</div>
<div class="t" style="right:711.1px;top:151.60px;font-size:6.3px;color:#c4c4c4;font-weight:normal;">5M</div>
<div class="t" style="right:711.1px;top:139.10px;font-size:6.3px;color:#c4c4c4;font-weight:normal;">5.5M</div>
<div class="t" style="left:-22.700000000000003px;width:200px;text-align:center;top:322.80px;font-size:6.2px;color:#c4c4c4;font-weight:normal;">10:30</div>
<div class="t" style="left:31.28px;width:200px;text-align:center;top:322.80px;font-size:6.2px;color:#c4c4c4;font-weight:normal;">10:40</div>
<div class="t" style="left:85.25999999999999px;width:200px;text-align:center;top:322.80px;font-size:6.2px;color:#c4c4c4;font-weight:normal;">10:50</div>
<div class="t" style="left:139.24px;width:200px;text-align:center;top:322.80px;font-size:6.2px;color:#c4c4c4;font-weight:normal;">11:00</div>
<div class="t" style="left:193.21999999999997px;width:200px;text-align:center;top:322.80px;font-size:6.2px;color:#c4c4c4;font-weight:normal;">11:10</div>
<div class="t" style="left:247.2px;width:200px;text-align:center;top:322.80px;font-size:6.2px;color:#c4c4c4;font-weight:normal;">11:20</div>
<div class="t" style="left:393.4px;top:140.30px;font-size:6.3px;color:#d4d4d4;font-weight:normal;">workload</div>
<div class="t" style="left:445.7px;top:140.30px;font-size:6.3px;color:#d4d4d4;font-weight:normal;">A - Sum(1m)</div>
<div class="t" style="left:506.3px;top:140.30px;font-size:6.3px;color:#d4d4d4;font-weight:normal;">A - Sum(1h)</div>
<div class="t" style="left:567.2px;top:140.30px;font-size:6.3px;color:#d4d4d4;font-weight:normal;">A - Sum(6h)</div>
<div class="t" style="left:628.8px;top:140.30px;font-size:6.3px;color:#d4d4d4;font-weight:normal;">dstworkload</div>
<div class="t" style="left:391.3px;top:154.90px;font-size:6.2px;color:#e4e4e4;font-weight:normal;-webkit-text-stroke:0.1px #e4e4e4;">zookeeper</div>
<div class="t" style="left:452px;top:154.90px;font-size:6.2px;color:#e4e4e4;font-weight:normal;-webkit-text-stroke:0.1px #e4e4e4;">1,538</div>
<div class="t" style="left:512.6px;top:154.90px;font-size:6.2px;color:#e4e4e4;font-weight:normal;-webkit-text-stroke:0.1px #e4e4e4;">92,280</div>
<div class="t" style="left:573.6px;top:154.90px;font-size:6.2px;color:#e4e4e4;font-weight:normal;-webkit-text-stroke:0.1px #e4e4e4;">32.2027M</div>
<div class="t" style="left:634.8px;top:154.90px;font-size:6.2px;color:#e4e4e4;font-weight:normal;-webkit-text-stroke:0.1px #e4e4e4;">kafka</div>
<div class="t" style="left:391.3px;top:167.90px;font-size:6.2px;color:#e4e4e4;font-weight:normal;-webkit-text-stroke:0.1px #e4e4e4;">tetragon-opera<span style="letter-spacing:1px">...</span></div>
<div class="t" style="left:452px;top:167.90px;font-size:6.2px;color:#e4e4e4;font-weight:normal;-webkit-text-stroke:0.1px #e4e4e4;">39,948</div>
<div class="t" style="left:512.6px;top:167.90px;font-size:6.2px;color:#e4e4e4;font-weight:normal;-webkit-text-stroke:0.1px #e4e4e4;">2,396,023</div>
<div class="t" style="left:573.6px;top:167.90px;font-size:6.2px;color:#e4e4e4;font-weight:normal;-webkit-text-stroke:0.1px #e4e4e4;">14.3358M</div>
<div class="t" style="left:634.8px;top:167.90px;font-size:6.2px;color:#e4e4e4;font-weight:normal;-webkit-text-stroke:0.1px #e4e4e4;">prometheus-pr<span style="letter-spacing:1px">...</span></div>
<div class="t" style="left:391.3px;top:180.90px;font-size:6.2px;color:#e4e4e4;font-weight:normal;-webkit-text-stroke:0.1px #e4e4e4;">tetragon</div>
<div class="t" style="left:452px;top:180.90px;font-size:6.2px;color:#e4e4e4;font-weight:normal;-webkit-text-stroke:0.1px #e4e4e4;">1,694,341</div>
<div class="t" style="left:512.6px;top:180.90px;font-size:6.2px;color:#e4e4e4;font-weight:normal;-webkit-text-stroke:0.1px #e4e4e4;">101.6531M</div>
<div class="t" style="left:573.6px;top:180.90px;font-size:6.2px;color:#e4e4e4;font-weight:normal;-webkit-text-stroke:0.1px #e4e4e4;">604.4256M</div>
<div class="t" style="left:634.8px;top:180.90px;font-size:6.2px;color:#e4e4e4;font-weight:normal;-webkit-text-stroke:0.1px #e4e4e4;">prometheus-pr<span style="letter-spacing:1px">...</span></div>
<div class="t" style="left:391.3px;top:193.90px;font-size:6.2px;color:#e4e4e4;font-weight:normal;-webkit-text-stroke:0.1px #e4e4e4;">splunk-otel-spl<span style="letter-spacing:1px">...</span></div>
<div class="t" style="left:452px;top:193.90px;font-size:6.2px;color:#e4e4e4;font-weight:normal;-webkit-text-stroke:0.1px #e4e4e4;">27,640</div>
<div class="t" style="left:512.6px;top:193.90px;font-size:6.2px;color:#e4e4e4;font-weight:normal;-webkit-text-stroke:0.1px #e4e4e4;">1,660,776</div>
<div class="t" style="left:573.6px;top:193.90px;font-size:6.2px;color:#e4e4e4;font-weight:normal;-webkit-text-stroke:0.1px #e4e4e4;">1.51613B</div>
<div class="t" style="left:634.8px;top:193.90px;font-size:6.2px;color:#e4e4e4;font-weight:normal;-webkit-text-stroke:0.1px #e4e4e4;">kafka</div>
<div class="t" style="left:391.3px;top:206.90px;font-size:6.2px;color:#e4e4e4;font-weight:normal;-webkit-text-stroke:0.1px #e4e4e4;">splunk-otel-spl<span style="letter-spacing:1px">...</span></div>
<div class="t" style="left:452px;top:206.90px;font-size:6.2px;color:#e4e4e4;font-weight:normal;-webkit-text-stroke:0.1px #e4e4e4;">732</div>
<div class="t" style="left:512.6px;top:206.90px;font-size:6.2px;color:#e4e4e4;font-weight:normal;-webkit-text-stroke:0.1px #e4e4e4;">43,920</div>
<div class="t" style="left:573.6px;top:206.90px;font-size:6.2px;color:#e4e4e4;font-weight:normal;-webkit-text-stroke:0.1px #e4e4e4;">257,664</div>
<div class="t" style="left:634.8px;top:206.90px;font-size:6.2px;color:#e4e4e4;font-weight:normal;-webkit-text-stroke:0.1px #e4e4e4;">coredns</div>
<div class="t" style="left:391.3px;top:219.90px;font-size:6.2px;color:#e4e4e4;font-weight:normal;-webkit-text-stroke:0.1px #e4e4e4;">splunk-otel-coll<span style="letter-spacing:1px">...</span></div>
<div class="t" style="left:452px;top:219.90px;font-size:6.2px;color:#e4e4e4;font-weight:normal;-webkit-text-stroke:0.1px #e4e4e4;">1,448</div>
<div class="t" style="left:512.6px;top:219.90px;font-size:6.2px;color:#e4e4e4;font-weight:normal;-webkit-text-stroke:0.1px #e4e4e4;">86,880</div>
<div class="t" style="left:573.6px;top:219.90px;font-size:6.2px;color:#e4e4e4;font-weight:normal;-webkit-text-stroke:0.1px #e4e4e4;">521,280</div>
<div class="t" style="left:634.8px;top:219.90px;font-size:6.2px;color:#e4e4e4;font-weight:normal;-webkit-text-stroke:0.1px #e4e4e4;">coredns</div>
<div class="t" style="left:391.3px;top:232.90px;font-size:6.2px;color:#e4e4e4;font-weight:normal;-webkit-text-stroke:0.1px #e4e4e4;">server</div>
<div class="t" style="left:452px;top:232.90px;font-size:6.2px;color:#e4e4e4;font-weight:normal;-webkit-text-stroke:0.1px #e4e4e4;">0</div>
<div class="t" style="left:512.6px;top:232.90px;font-size:6.2px;color:#e4e4e4;font-weight:normal;-webkit-text-stroke:0.1px #e4e4e4;">0</div>
<div class="t" style="left:573.6px;top:232.90px;font-size:6.2px;color:#e4e4e4;font-weight:normal;-webkit-text-stroke:0.1px #e4e4e4;">1,690</div>
<div class="t" style="left:634.8px;top:232.90px;font-size:6.2px;color:#e4e4e4;font-weight:normal;-webkit-text-stroke:0.1px #e4e4e4;">client</div>
<div class="t" style="left:391.3px;top:245.90px;font-size:6.2px;color:#e4e4e4;font-weight:normal;-webkit-text-stroke:0.1px #e4e4e4;">rabbitmq</div>
<div class="t" style="left:452px;top:245.90px;font-size:6.2px;color:#e4e4e4;font-weight:normal;-webkit-text-stroke:0.1px #e4e4e4;">112</div>
<div class="t" style="left:512.6px;top:245.90px;font-size:6.2px;color:#e4e4e4;font-weight:normal;-webkit-text-stroke:0.1px #e4e4e4;">35,749</div>
<div class="t" style="left:573.6px;top:245.90px;font-size:6.2px;color:#e4e4e4;font-weight:normal;-webkit-text-stroke:0.1px #e4e4e4;">186,164</div>
<div class="t" style="left:634.8px;top:245.90px;font-size:6.2px;color:#e4e4e4;font-weight:normal;-webkit-text-stroke:0.1px #e4e4e4;">load-generator-<span style="letter-spacing:1px">...</span></div>
<div class="t" style="left:391.3px;top:258.90px;font-size:6.2px;color:#e4e4e4;font-weight:normal;-webkit-text-stroke:0.1px #e4e4e4;">rabbitmq</div>
<div class="t" style="left:452px;top:258.90px;font-size:6.2px;color:#e4e4e4;font-weight:normal;-webkit-text-stroke:0.1px #e4e4e4;">62</div>
<div class="t" style="left:512.6px;top:258.90px;font-size:6.2px;color:#e4e4e4;font-weight:normal;-webkit-text-stroke:0.1px #e4e4e4;">3,720</div>
<div class="t" style="left:573.6px;top:258.90px;font-size:6.2px;color:#e4e4e4;font-weight:normal;-webkit-text-stroke:0.1px #e4e4e4;">21,886</div>
<div class="t" style="left:634.8px;top:258.90px;font-size:6.2px;color:#e4e4e4;font-weight:normal;-webkit-text-stroke:0.1px #e4e4e4;">rabbitmq</div>
<div class="t" style="left:391.3px;top:271.90px;font-size:6.2px;color:#e4e4e4;font-weight:normal;-webkit-text-stroke:0.1px #e4e4e4;">prometheus-pr<span style="letter-spacing:1px">...</span></div>
<div class="t" style="left:452px;top:271.90px;font-size:6.2px;color:#e4e4e4;font-weight:normal;-webkit-text-stroke:0.1px #e4e4e4;">400,658</div>
<div class="t" style="left:512.6px;top:271.90px;font-size:6.2px;color:#e4e4e4;font-weight:normal;-webkit-text-stroke:0.1px #e4e4e4;">24.04731M</div>
<div class="t" style="left:573.6px;top:271.90px;font-size:6.2px;color:#e4e4e4;font-weight:normal;-webkit-text-stroke:0.1px #e4e4e4;">144.279M</div>
<div class="t" style="left:634.8px;top:271.90px;font-size:6.2px;color:#e4e4e4;font-weight:normal;-webkit-text-stroke:0.1px #e4e4e4;">prometheus-pr<span style="letter-spacing:1px">...</span></div>
<div class="t" style="left:391.3px;top:284.90px;font-size:6.2px;color:#e4e4e4;font-weight:normal;-webkit-text-stroke:0.1px #e4e4e4;">prometheus-pr<span style="letter-spacing:1px">...</span></div>
<div class="t" style="left:452px;top:284.90px;font-size:6.2px;color:#e4e4e4;font-weight:normal;-webkit-text-stroke:0.1px #e4e4e4;">3,424</div>
<div class="t" style="left:512.6px;top:284.90px;font-size:6.2px;color:#e4e4e4;font-weight:normal;-webkit-text-stroke:0.1px #e4e4e4;">205,440</div>
<div class="t" style="left:573.6px;top:284.90px;font-size:6.2px;color:#e4e4e4;font-weight:normal;-webkit-text-stroke:0.1px #e4e4e4;">1,233,382</div>
<div class="t" style="left:634.8px;top:284.90px;font-size:6.2px;color:#e4e4e4;font-weight:normal;-webkit-text-stroke:0.1px #e4e4e4;">prometheus-ku<span style="letter-spacing:1px">...</span></div>
<div class="t" style="left:391.3px;top:297.90px;font-size:6.2px;color:#e4e4e4;font-weight:normal;-webkit-text-stroke:0.1px #e4e4e4;">prometheus-pr<span style="letter-spacing:1px">...</span></div>
<div class="t" style="left:452px;top:297.90px;font-size:6.2px;color:#e4e4e4;font-weight:normal;-webkit-text-stroke:0.1px #e4e4e4;">0</div>
<div class="t" style="left:512.6px;top:297.90px;font-size:6.2px;color:#e4e4e4;font-weight:normal;-webkit-text-stroke:0.1px #e4e4e4;">0</div>
<div class="t" style="left:573.6px;top:297.90px;font-size:6.2px;color:#e4e4e4;font-weight:normal;-webkit-text-stroke:0.1px #e4e4e4;">0</div>
<div class="t" style="left:634.8px;top:297.90px;font-size:6.2px;color:#e4e4e4;font-weight:normal;-webkit-text-stroke:0.1px #e4e4e4;">server</div>
<div class="t" style="left:456.79999999999995px;width:200px;text-align:center;top:317.80px;font-size:6.25px;color:#c8c8c8;font-weight:normal;">Thu 25 Sep 2025 11:22:00</div>
<div class="t" style="right:711.1px;top:368.20px;font-size:6.3px;color:#c4c4c4;font-weight:normal;">0</div>
<div class="t" style="right:711.1px;top:382.12px;font-size:6.3px;color:#c4c4c4;font-weight:normal;">&#8722;500k</div>
<div class="t" style="right:711.1px;top:396.05px;font-size:6.3px;color:#c4c4c4;font-weight:normal;">&#8722;1M</div>
<div class="t" style="right:711.1px;top:409.97px;font-size:6.3px;color:#c4c4c4;font-weight:normal;">&#8722;1.5M</div>
<div class="t" style="right:711.1px;top:423.90px;font-size:6.3px;color:#c4c4c4;font-weight:normal;">&#8722;2M</div>
<div class="t" style="left:-22.900000000000006px;width:200px;text-align:center;top:437.40px;font-size:6.2px;color:#c4c4c4;font-weight:normal;">10:30</div>
<div class="t" style="left:31.0px;width:200px;text-align:center;top:437.40px;font-size:6.2px;color:#c4c4c4;font-weight:normal;">10:40</div>
<div class="t" style="left:84.89999999999998px;width:200px;text-align:center;top:437.40px;font-size:6.2px;color:#c4c4c4;font-weight:normal;">10:50</div>
<div class="t" style="left:138.79999999999998px;width:200px;text-align:center;top:437.40px;font-size:6.2px;color:#c4c4c4;font-weight:normal;">11:00</div>
<div class="t" style="left:192.7px;width:200px;text-align:center;top:437.40px;font-size:6.2px;color:#c4c4c4;font-weight:normal;">11:10</div>
<div class="t" style="left:246.60000000000002px;width:200px;text-align:center;top:437.40px;font-size:6.2px;color:#c4c4c4;font-weight:normal;">11:20</div>
<div class="t" style="right:344.2px;top:424.50px;font-size:6.3px;color:#c4c4c4;font-weight:normal;">0</div>
<div class="t" style="right:344.2px;top:406.06px;font-size:6.3px;color:#c4c4c4;font-weight:normal;">5</div>
<div class="t" style="right:344.2px;top:387.63px;font-size:6.3px;color:#c4c4c4;font-weight:normal;">10</div>
<div class="t" style="right:344.2px;top:369.19px;font-size:6.3px;color:#c4c4c4;font-weight:normal;">15</div>
<div class="t" style="left:344.5px;width:200px;text-align:center;top:437.50px;font-size:6.2px;color:#c4c4c4;font-weight:normal;">10:30</div>
<div class="t" style="left:398.3px;width:200px;text-align:center;top:437.50px;font-size:6.2px;color:#c4c4c4;font-weight:normal;">10:40</div>
<div class="t" style="left:452.1px;width:200px;text-align:center;top:437.50px;font-size:6.2px;color:#c4c4c4;font-weight:normal;">10:50</div>
<div class="t" style="left:505.9px;width:200px;text-align:center;top:437.50px;font-size:6.2px;color:#c4c4c4;font-weight:normal;">11:00</div>
<div class="t" style="left:559.7px;width:200px;text-align:center;top:437.50px;font-size:6.2px;color:#c4c4c4;font-weight:normal;">11:10</div>
<div class="t" style="left:613.5px;width:200px;text-align:center;top:437.50px;font-size:6.2px;color:#c4c4c4;font-weight:normal;">11:20</div>
<div class="t" style="right:711px;top:541.10px;font-size:6.3px;color:#c4c4c4;font-weight:normal;">0</div>
<div class="t" style="right:711px;top:527.90px;font-size:6.3px;color:#c4c4c4;font-weight:normal;">10</div>
<div class="t" style="right:711px;top:514.70px;font-size:6.3px;color:#c4c4c4;font-weight:normal;">20</div>
<div class="t" style="right:711px;top:501.50px;font-size:6.3px;color:#c4c4c4;font-weight:normal;">30</div>
<div class="t" style="right:711px;top:488.30px;font-size:6.3px;color:#c4c4c4;font-weight:normal;">40</div>
<div class="t" style="left:-22.400000000000006px;width:200px;text-align:center;top:552.20px;font-size:6.2px;color:#c4c4c4;font-weight:normal;">10:30</div>
<div class="t" style="left:31.5px;width:200px;text-align:center;top:552.20px;font-size:6.2px;color:#c4c4c4;font-weight:normal;">10:40</div>
<div class="t" style="left:85.39999999999998px;width:200px;text-align:center;top:552.20px;font-size:6.2px;color:#c4c4c4;font-weight:normal;">10:50</div>
<div class="t" style="left:139.29999999999998px;width:200px;text-align:center;top:552.20px;font-size:6.2px;color:#c4c4c4;font-weight:normal;">11:00</div>
<div class="t" style="left:193.2px;width:200px;text-align:center;top:552.20px;font-size:6.2px;color:#c4c4c4;font-weight:normal;">11:10</div>
<div class="t" style="left:247.10000000000002px;width:200px;text-align:center;top:552.20px;font-size:6.2px;color:#c4c4c4;font-weight:normal;">11:20</div>
<div class="t" style="left:441.3px;top:492.20px;font-size:7.3px;color:#1c7fcf;font-weight:normal;-webkit-text-stroke:0.3px #1c7fcf;">12,121</div>
<div class="t" style="left:497px;top:492.30px;font-size:7.25px;color:#d0d0d0;font-weight:normal;">TCP RTT no socket | tetragon-m7w82</div>
<div class="t" style="left:441.3px;top:513.10px;font-size:7.3px;color:#1f8f1f;font-weight:normal;-webkit-text-stroke:0.3px #1f8f1f;">10,244</div>
<div class="t" style="left:497px;top:513.20px;font-size:7.25px;color:#d0d0d0;font-weight:normal;">TCP RTT no socket | tetragon-dhjr5</div>
<div class="t" style="left:441.3px;top:534.00px;font-size:7.3px;color:#c8c8c8;font-weight:normal;-webkit-text-stroke:0.3px #c8c8c8;">7,030</div>
<div class="t" style="left:497px;top:534.10px;font-size:7.25px;color:#d0d0d0;font-weight:normal;">TCP send no socket | tetragon-dhjr5</div>
<div class="t" style="left:441.3px;top:554.90px;font-size:7.3px;color:#8070ea;font-weight:normal;-webkit-text-stroke:0.3px #8070ea;">4,676</div>
<div class="t" style="left:497px;top:555.00px;font-size:7.25px;color:#d0d0d0;font-weight:normal;">TCP RTT no socket | tetragon-qt2sn</div>
<div class="t" style="left:441.3px;top:575.80px;font-size:7.3px;color:#c85f18;font-weight:normal;-webkit-text-stroke:0.3px #c85f18;">3,950</div>
<div class="t" style="left:497px;top:575.90px;font-size:7.25px;color:#d0d0d0;font-weight:normal;">TCP send no socket | tetragon-m7w82</div>
</body></html>
